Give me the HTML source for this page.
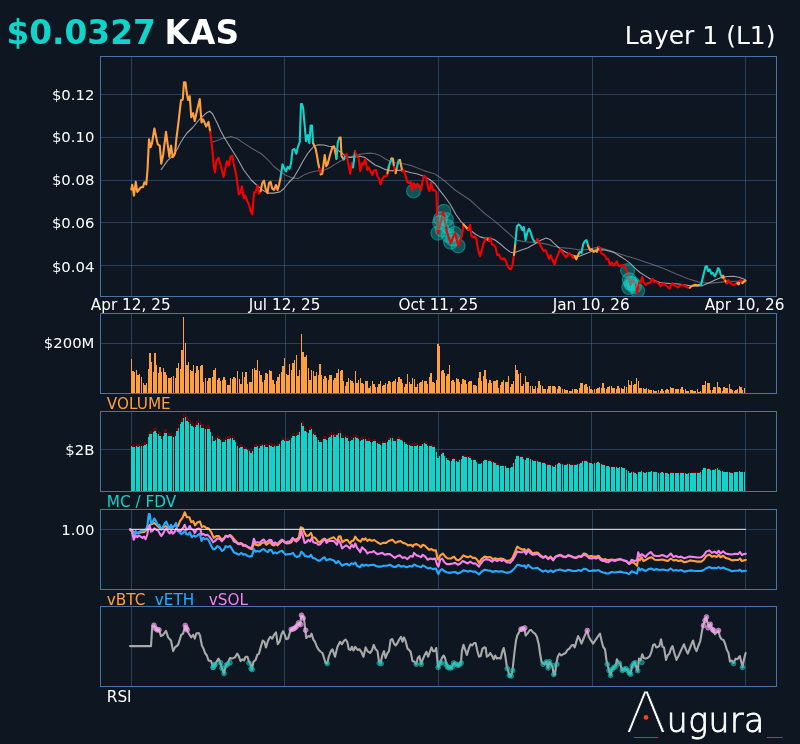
<!DOCTYPE html>
<html lang="en"><head><meta charset="utf-8"><title>KAS $0.0327 - Layer 1 (L1)</title>
<style>html,body{margin:0;padding:0;background:#0e1621}body{width:800px;height:744px;overflow:hidden}</style></head>
<body>
<svg width="800" height="744" viewBox="0 0 800 744" style="display:block;will-change:transform;font-family:'DejaVu Sans','Liberation Sans',sans-serif">
<rect width="800" height="744" fill="#0e1621"/>
<g stroke="#4a73a5" stroke-opacity="0.45" stroke-width="1" shape-rendering="crispEdges"><line x1="131.5" x2="131.5" y1="56.5" y2="296.5"/><line x1="284.5" x2="284.5" y1="56.5" y2="296.5"/><line x1="438.5" x2="438.5" y1="56.5" y2="296.5"/><line x1="592.5" x2="592.5" y1="56.5" y2="296.5"/><line x1="745.5" x2="745.5" y1="56.5" y2="296.5"/><line x1="100.5" x2="776.5" y1="94.5" y2="94.5"/><line x1="100.5" x2="776.5" y1="137.5" y2="137.5"/><line x1="100.5" x2="776.5" y1="180.5" y2="180.5"/><line x1="100.5" x2="776.5" y1="222.5" y2="222.5"/><line x1="100.5" x2="776.5" y1="265.5" y2="265.5"/></g>
<g fill="none" stroke-linejoin="round" stroke-linecap="butt">
<path d="M212.5 141.9 L215 141.25 L222.5 138.5 L231.25 136.5 L237.5 138.75 L243.75 143.1 L252.5 148.75 L261.25 153.75 L267.5 159.4 L273.75 166.25 L280 171.25 L285 175 L291.25 177.5 L297.5 178.5 L300 177.5 L305 174.4 L310 172.5 L315 171.25 L320 170.6 L325 169.75 L330 167.5 L335 164.4 L340 161.25 L345 158.75 L350 156.9 L355 155.6 L360 154.4 L365 153.5 L370 153.1 L375 153.75 L380 155.6 L385 158.75 L390 161.25 L395 162.75 L400 163.5 L405 164 L411.25 165.6 L417.5 168.1 L423.75 170.6 L430 172.5 L435 174 L440 177.5 L445 181.25 L450 185.6 L455 190 L462.5 195 L470 200 L477.5 206.9 L485 213.75 L492.5 219.4 L500 225.6 L506.25 231.25 L510 234.4 L513.75 238.1 L517.5 240.4 L522.5 241.4 L528.75 242 L535 242.5 L541.25 243.1 L547.5 244.4 L553.75 246.25 L560 247.5 L566.25 248.1 L572.5 248.75 L578.75 249.75 L585 249.75 L590 249 L596.25 247.6 L601.25 248.1 L607.5 250 L613.75 251.9 L620 254 L626.25 256 L632.5 257.75 L638.75 259.75 L645 261.9 L651.25 264 L657.5 266.25 L663.75 268.5 L670 271.25 L676.25 274 L682.5 276.5 L688.75 279 L695 280.9 L700 282.5 L711.25 283.1 L723.75 281.9 L736.25 281.25 L745.6 280.6" stroke="#9a9da3" stroke-width="1.1" stroke-opacity="0.55"/>
<path d="M160.9 170 L167.5 160.6 L173.1 155.6 L177.5 148.75 L180 143.5 L183.75 137.5 L187 133 L192.5 127.75 L200 118.75 L206.25 113.1 L209.75 111.25 L212.5 113.75 L217.5 123.75 L220.5 130.5 L224.4 137.8 L231.25 148.75 L237.5 158.75 L243.75 170 L251.25 180 L256.25 184.75 L262.5 190 L267.5 193.1 L273.75 193.1 L280 191.9 L283.75 188.75 L288.75 182.5 L293.75 177.5 L298.75 169 L302.5 162 L307.5 153.75 L310 150.6 L313.75 146.25 L318.1 144.75 L323.75 145 L328.75 146.25 L333.75 146.9 L337.5 150 L341.25 152.5 L345 155.6 L350 157.5 L355 156.9 L360 156.25 L365 157.5 L370 161.25 L375 165 L380 167 L385 169.4 L390 170.6 L395 170.6 L400 170.25 L405 171 L411.25 172.75 L417.5 174 L423.75 176.25 L430 179.75 L435 183.75 L440 190.6 L445 197 L450 204 L456.25 215 L461.25 221.9 L465 225.6 L470 230 L475 233.75 L480 236.9 L485 238.1 L490 238.1 L495 240 L500 243.75 L505 248.1 L510 251.9 L513.75 253.1 L520 250.6 L527.5 248.1 L535 243.75 L541.25 240 L546.25 238.1 L550 239.4 L553.75 243.1 L560 248.75 L566.25 252.5 L572.5 255 L578.75 256.5 L585 254 L590 251.9 L595 250 L600 249.6 L605 250 L610 251.25 L615 253.1 L620 256.25 L625 259.4 L630 263.1 L635 268.1 L640 272.5 L645 275.6 L650 278.75 L655 280.6 L660 282.5 L665 283.1 L670 283.5 L676.25 283.75 L682.5 284.6 L688.75 285.5 L692.5 286.25 L697 286.2 L702.5 285.6 L708.75 283.1 L715 280 L721.25 277.5 L727.5 276.5 L733.75 276.25 L738.75 277.25 L742.5 278.5 L745.6 279.75" stroke="#c4c6ca" stroke-width="1.1" stroke-opacity="0.8"/>
<clipPath id="cp0"><rect x="100.5" y="56.5" width="676" height="240"/></clipPath>
<g fill="#12d3c9" fill-opacity="0.33" stroke="#12d3c9" stroke-opacity="0.42" stroke-width="1.2" clip-path="url(#cp0)"><circle cx="413.5" cy="191" r="7"/><circle cx="443.8" cy="211.3" r="7"/><circle cx="440.6" cy="218.8" r="7"/><circle cx="446.4" cy="219.5" r="7"/><circle cx="437.8" cy="233.1" r="7"/><circle cx="447.2" cy="226.3" r="7"/><circle cx="442.3" cy="230" r="7"/><circle cx="448.3" cy="235.3" r="7"/><circle cx="450.6" cy="242.1" r="7"/><circle cx="452.8" cy="239" r="7"/><circle cx="458.1" cy="245.9" r="7"/><circle cx="454.7" cy="233.5" r="7"/><circle cx="627.6" cy="270.6" r="7"/><circle cx="633" cy="283.5" r="7"/><circle cx="634.5" cy="286.5" r="7"/><circle cx="628.8" cy="287.5" r="7"/><circle cx="637.6" cy="290.8" r="7"/><circle cx="631.5" cy="284.5" r="7"/></g>
<path d="M131.3 189.4 L132.25 184.75 L134 195.62 L135.75 181.88 L137.25 191.88 L138.75 190 L140.62 187.5 L143.12 186.88 L144.38 182.25 L146.25 184.38 L147.5 170 L149 139.38 L150.62 147.25 L151.88 143.75 L154.38 128.5 L156.25 137.5 L157.75 144.38 L159.75 145.62 L161.25 163.75 L163.12 155 L166 131.88 L169.38 156.88 L171 145.62 L172.75 157.25 L175 153.75 L176.25 140 L178.75 120 L181 100.25 L182.75 99.75 L184 82.25 L185.5 82.25 L186.5 91.25 L188.12 100 L189.75 96.25 L191.25 117.25 L193.12 113.12 L194.75 121 L196.88 111.25 L199.75 99 L201.5 122.5 L203.12 119.38 L206.25 126.5 L208.5 121.88 L210.25 131.88" stroke="#ffa03c" stroke-width="2.1" stroke-linecap="round"/>
<path d="M210.25 131.88 L212.5 151.25 L213.75 166.25 L215 172.5 L216.25 161.25 L218.5 157.75 L220.62 165 L223.5 176.88 L226.88 161.25 L228.75 165.62 L230.25 157.25 L232.25 155.62 L233.75 163.75 L236.25 175 L238.75 194.38 L240.62 192.5 L241.88 186.25 L243.75 198.12 L245.25 195.62 L247.25 201.25 L249 204.38 L250.62 211.25 L252.25 214.38 L254 192.5 L255.62 191.88 L257.5 185.62 L259 193.75 L260.62 191.25" stroke="#f40000" stroke-width="2.1" stroke-linecap="round"/>
<path d="M260.62 191.25 L262.25 183.12 L264 180.62 L265.62 188.75 L267.5 193.12 L269 183.12 L270.62 181.88 L272.25 188.75 L274 190 L276 185 L277.5 190 L279 185 L280.62 177.5" stroke="#ffa03c" stroke-width="2.1" stroke-linecap="round"/>
<path d="M280.62 176.88 L282.5 164.38 L284 168.12 L286 171.25 L287.75 166.88 L289.38 168.75 L291 163.75 L292.5 150 L294.38 148.75 L296.25 153.75 L297.75 147.5 L300 141.25 L299.75 141.25 L301 104 L302 104 L303.12 108.12 L304.75 126.25 L306 141.25 L307.75 135 L309.38 143.12 L310.62 125.62 L312 125.62 L313.12 143.12" stroke="#12d3c9" stroke-width="2.1" stroke-linecap="round"/>
<path d="M313.12 143.12 L315.62 148.75 L316.88 155 L318.12 162.5 L319.38 168.75" stroke="#ffa03c" stroke-width="2.1" stroke-linecap="round"/>
<path d="M319.38 168.75 L320.25 171.88 L320.62 174.38" stroke="#f40000" stroke-width="2.1" stroke-linecap="round"/>
<path d="M320.62 174.38 L322.25 173.75 L324.75 155 L326.25 166.25 L327.5 164.38 L330 155 L332.5 146.88 L334 146.25 L335.62 153.75 L336.5 158.75" stroke="#ffa03c" stroke-width="2.1" stroke-linecap="round"/>
<path d="M336.5 158.75 L337.75 142.5 L339.38 137.75" stroke="#12d3c9" stroke-width="2.1" stroke-linecap="round"/>
<path d="M339.38 137.75 L340.62 137.5 L341.5 156.25 L343.75 159.38" stroke="#ffa03c" stroke-width="2.1" stroke-linecap="round"/>
<path d="M343.75 159.38 L345.25 155" stroke="#12d3c9" stroke-width="2.1" stroke-linecap="round"/>
<path d="M345.25 155 L346.5 153.75 L348.12 163.12 L350.25 173.75 L351.88 162.5 L353.12 167.5" stroke="#f40000" stroke-width="2.1" stroke-linecap="round"/>
<path d="M353.12 167.5 L355 151.25" stroke="#12d3c9" stroke-width="2.1" stroke-linecap="round"/>
<path d="M355 151.25 L356.88 156.88 L358.5 157.5 L360.25 171.25 L361.88 163.12 L363.5 164.38 L365.25 158.75 L367.25 170 L368.75 167.5 L372.25 175 L374 170.62 L376 170 L377.5 176.25 L379 178.75 L380.62 184.38 L382.25 178.75 L384.38 176.25 L386.25 176.25 L387.5 173.12" stroke="#f40000" stroke-width="2.1" stroke-linecap="round"/>
<path d="M387.5 173.12 L388.75 167.5" stroke="#ffa03c" stroke-width="2.1" stroke-linecap="round"/>
<path d="M388.75 167.5 L388.5 167.25 L391.5 158.5" stroke="#12d3c9" stroke-width="2.1" stroke-linecap="round"/>
<path d="M391.5 158.5 L392.88 158.5 L394 166.88" stroke="#ffa03c" stroke-width="2.1" stroke-linecap="round"/>
<path d="M394 166.88 L395.62 173.12" stroke="#f40000" stroke-width="2.1" stroke-linecap="round"/>
<path d="M395.62 173.12 L396.88 167.5" stroke="#ffa03c" stroke-width="2.1" stroke-linecap="round"/>
<path d="M396.88 167.5 L398.75 160 L400 160" stroke="#12d3c9" stroke-width="2.1" stroke-linecap="round"/>
<path d="M400 160 L402.25 171.25" stroke="#ffa03c" stroke-width="2.1" stroke-linecap="round"/>
<path d="M402.25 171.25 L403.75 170 L405.62 176.25 L407.25 181.88 L409 183.12 L410.62 181.88 L412.25 190.62 L413.75 183.12 L415.62 188.12 L417.5 183.75 L419.38 185.62 L421 190.62 L422.75 180 L424.38 175.62 L426.25 178.12 L428.12 187.5 L429.38 191.25 L431 182.5 L432.75 190 L434.75 190 L436.5 192.5 L436.88 210 L438.12 233.75 L439.75 226.25 L441.25 220 L443.12 211.25 L445 221.25 L446.88 231.25 L448.75 237.5 L451 243.12 L452.75 238.12 L455 233.12 L456.5 238.75 L458.12 245.62 L460 240.62 L461.88 236.25 L463.5 224.38" stroke="#f40000" stroke-width="2.1" stroke-linecap="round"/>
<path d="M463.5 224.38 L468.12 229.75" stroke="#ffa03c" stroke-width="2.1" stroke-linecap="round"/>
<path d="M468.12 229.75 L468.5 228.75 L470 225 L471.5 236.25 L473.12 237.5 L474.75 236.25 L476.5 239.38 L478.12 250 L480 256.25 L481.88 250 L483.75 242.5 L485.62 238.75 L487.5 239.38" stroke="#f40000" stroke-width="2.1" stroke-linecap="round"/>
<path d="M487.5 239.38 L489 240.62" stroke="#ffa03c" stroke-width="2.1" stroke-linecap="round"/>
<path d="M489 240.62 L490.25 237.5 L491.88 244.38 L493.75 245 L495.62 247.5 L497.25 255 L499 254.38 L500.62 258.12 L502.25 259.38 L504 258.12 L505.62 260.62 L507.25 265 L509 268.5 L511 269.38 L512.5 265 L514 255" stroke="#f40000" stroke-width="2.1" stroke-linecap="round"/>
<path d="M514 255 L515.25 243.75" stroke="#ffa03c" stroke-width="2.1" stroke-linecap="round"/>
<path d="M515.25 243.75 L516.88 226.25 L518.75 224.38 L520.62 226.25 L522.25 230 L523.75 226.88 L525.62 240 L527.5 231.88 L529 228.75 L530.62 232.5 L532.5 238.12 L534.38 241.88 L536.25 241.25" stroke="#12d3c9" stroke-width="2.1" stroke-linecap="round"/>
<path d="M536.25 241.25 L537.5 238.75 L539.38 243.75 L541.25 246.88 L543.75 251.25 L545.62 250 L547.25 254.38 L549 258.75 L550.62 255 L552.5 260 L554.38 264.38 L556.25 258.75 L558.12 254.38 L560 249.38 L561.88 251.25 L563.75 254.38 L566 257.5 L567.75 255 L569.38 253.12 L571.25 255.62 L573.12 258.12 L574.75 256.25" stroke="#f40000" stroke-width="2.1" stroke-linecap="round"/>
<path d="M574.75 256.25 L576.25 259.38 L578.12 255 L579.75 251.88" stroke="#ffa03c" stroke-width="2.1" stroke-linecap="round"/>
<path d="M579.75 251.88 L581.5 253.12 L583.12 244.38 L584.75 241.25 L586.5 240 L588.12 245.62" stroke="#12d3c9" stroke-width="2.1" stroke-linecap="round"/>
<path d="M588.12 245.62 L590 250 L591.88 249.38 L593.75 251.88 L595.62 250.62 L596.88 251.88 L598.5 246.88" stroke="#ffa03c" stroke-width="2.1" stroke-linecap="round"/>
<path d="M598.5 246.88 L599.75 247.5 L601.25 253.12 L603.12 254.38 L605 255.62 L606.5 259.38 L608.12 258.75 L610 265 L611.88 262.5 L613.75 265.62 L615.25 263.75 L616.88 261.25 L618.75 266.25 L620.62 265.62 L623.75 265 L625.62 268.12 L627.25 271.88 L628.12 276.25 L630.62 285 L632.25 279.75 L634.38 282.5 L636 285 L637.25 293.12 L638.75 282.5 L640.25 283.12 L642.25 276.88 L643.75 282.5 L645.62 285 L647.5 283.12 L649.38 283.12 L651 281.25 L652.5 278.75 L654 281.88 L656.25 281.25 L658.75 283.75 L660.62 286.25 L663.12 283.12 L665 284.38 L667.5 286.88 L669.38 288.75 L671 285 L672.5 283.12 L674.38 285.62 L676.25 286.25 L677.75 287.5 L680 285.62 L682.5 285 L683.12 285 L685.62 286.25 L687.75 287.5 L689.75 287.75" stroke="#f40000" stroke-width="2.1" stroke-linecap="round"/>
<path d="M689.75 287.75 L690.62 286.88 L692.5 285.62 L695 284.75 L697.5 285.25 L700 284.75" stroke="#ffa03c" stroke-width="2.1" stroke-linecap="round"/>
<path d="M700 284.75 L701 285 L703.12 276.25 L705.62 266.25 L706.88 266.25 L708.12 271.25 L709.75 269.38 L711.25 273.75 L712.75 272.75 L714.75 276.25 L716.5 273.12 L718.12 268.12 L719.38 269.38 L720.62 274.38 L722.25 277.5" stroke="#12d3c9" stroke-width="2.1" stroke-linecap="round"/>
<path d="M722.25 277.5 L723.12 275.62 L724.38 279.38" stroke="#ffa03c" stroke-width="2.1" stroke-linecap="round"/>
<path d="M724.38 279.38 L725.25 280.62" stroke="#f40000" stroke-width="2.1" stroke-linecap="round"/>
<path d="M725.25 280.62 L726.88 283.12" stroke="#ffa03c" stroke-width="2.1" stroke-linecap="round"/>
<path d="M726.88 283.12 L728.12 280.25 L730 282.25 L731.88 284.38 L733.75 285 L735.62 283.75 L737.25 283.12" stroke="#f40000" stroke-width="2.1" stroke-linecap="round"/>
<path d="M737.25 283.12 L738.75 284.38 L739.75 281.25" stroke="#ffa03c" stroke-width="2.1" stroke-linecap="round"/>
<path d="M739.75 281.25 L740.62 280 L742.25 283.12" stroke="#f40000" stroke-width="2.1" stroke-linecap="round"/>
<path d="M742.25 283.12 L743.75 281.88 L745.62 280.62" stroke="#ffa03c" stroke-width="2.1" stroke-linecap="round"/>
<g fill="#12d3c9" fill-opacity="0.33" stroke="#12d3c9" stroke-opacity="0.42" stroke-width="1.2" clip-path="url(#cp0)"><circle cx="439.6" cy="222.5" r="7"/><circle cx="629.3" cy="279.8" r="7"/><circle cx="630.6" cy="283" r="7"/></g>
</g>
<rect x="100.5" y="56.5" width="676.0" height="240.0" fill="none" stroke="#4a73a5" stroke-width="1" shape-rendering="crispEdges"/>
<g stroke="#4a73a5" stroke-opacity="0.45" stroke-width="1" shape-rendering="crispEdges"><line x1="131.5" x2="131.5" y1="313.5" y2="393.5"/><line x1="285.5" x2="285.5" y1="313.5" y2="393.5"/><line x1="438.5" x2="438.5" y1="313.5" y2="393.5"/><line x1="591.5" x2="591.5" y1="313.5" y2="393.5"/><line x1="745.5" x2="745.5" y1="313.5" y2="393.5"/><line x1="100.5" x2="776.5" y1="343.5" y2="343.5"/></g>
<g fill="#ffa03c" shape-rendering="crispEdges"><rect x="131" y="359" width="1" height="34"/><rect x="132" y="371" width="2" height="22"/><rect x="134" y="372" width="1" height="21"/><rect x="136" y="370" width="1" height="23"/><rect x="137" y="375" width="2" height="18"/><rect x="139" y="374" width="1" height="19"/><rect x="141" y="377" width="1" height="16"/><rect x="143" y="383" width="1" height="10"/><rect x="144" y="385" width="2" height="8"/><rect x="146" y="383" width="1" height="10"/><rect x="148" y="369" width="1" height="24"/><rect x="149" y="353" width="2" height="40"/><rect x="151" y="362" width="1" height="31"/><rect x="153" y="372" width="1" height="21"/><rect x="154" y="353" width="2" height="40"/><rect x="156" y="365" width="1" height="28"/><rect x="158" y="373" width="1" height="20"/><rect x="159" y="367" width="2" height="26"/><rect x="161" y="372" width="1" height="21"/><rect x="163" y="368" width="1" height="25"/><rect x="164" y="372" width="2" height="21"/><rect x="166" y="375" width="1" height="18"/><rect x="168" y="378" width="1" height="15"/><rect x="169" y="378" width="2" height="15"/><rect x="171" y="377" width="1" height="16"/><rect x="173" y="376" width="1" height="17"/><rect x="175" y="378" width="1" height="15"/><rect x="176" y="368" width="2" height="25"/><rect x="178" y="363" width="1" height="30"/><rect x="180" y="369" width="1" height="24"/><rect x="181" y="350" width="2" height="43"/><rect x="183" y="317" width="1" height="76"/><rect x="185" y="343" width="1" height="50"/><rect x="186" y="365" width="2" height="28"/><rect x="188" y="362" width="1" height="31"/><rect x="190" y="370" width="1" height="23"/><rect x="191" y="371" width="2" height="22"/><rect x="193" y="365" width="1" height="28"/><rect x="195" y="373" width="1" height="20"/><rect x="196" y="366" width="2" height="27"/><rect x="198" y="370" width="1" height="23"/><rect x="200" y="366" width="1" height="27"/><rect x="201" y="365" width="2" height="28"/><rect x="203" y="382" width="1" height="11"/><rect x="205" y="378" width="1" height="15"/><rect x="207" y="381" width="1" height="12"/><rect x="208" y="378" width="2" height="15"/><rect x="210" y="378" width="1" height="15"/><rect x="212" y="377" width="1" height="16"/><rect x="213" y="370" width="2" height="23"/><rect x="215" y="368" width="1" height="25"/><rect x="217" y="380" width="1" height="13"/><rect x="218" y="378" width="2" height="15"/><rect x="220" y="381" width="1" height="12"/><rect x="222" y="380" width="1" height="13"/><rect x="223" y="377" width="2" height="16"/><rect x="225" y="380" width="1" height="13"/><rect x="227" y="385" width="1" height="8"/><rect x="228" y="385" width="2" height="8"/><rect x="230" y="378" width="1" height="15"/><rect x="232" y="379" width="1" height="14"/><rect x="233" y="377" width="2" height="16"/><rect x="235" y="378" width="1" height="15"/><rect x="237" y="371" width="1" height="22"/><rect x="239" y="379" width="1" height="14"/><rect x="240" y="384" width="2" height="9"/><rect x="242" y="372" width="1" height="21"/><rect x="244" y="377" width="1" height="16"/><rect x="245" y="372" width="2" height="21"/><rect x="247" y="384" width="1" height="9"/><rect x="249" y="382" width="1" height="11"/><rect x="250" y="382" width="2" height="11"/><rect x="252" y="369" width="1" height="24"/><rect x="254" y="368" width="1" height="25"/><rect x="255" y="370" width="2" height="23"/><rect x="257" y="360" width="1" height="33"/><rect x="259" y="371" width="1" height="22"/><rect x="260" y="375" width="2" height="18"/><rect x="262" y="382" width="1" height="11"/><rect x="264" y="380" width="1" height="13"/><rect x="265" y="373" width="2" height="20"/><rect x="267" y="374" width="1" height="19"/><rect x="269" y="370" width="1" height="23"/><rect x="270" y="371" width="2" height="22"/><rect x="272" y="380" width="2" height="13"/><rect x="274" y="384" width="1" height="9"/><rect x="276" y="381" width="1" height="12"/><rect x="277" y="377" width="2" height="16"/><rect x="279" y="374" width="1" height="19"/><rect x="281" y="372" width="1" height="21"/><rect x="282" y="366" width="2" height="27"/><rect x="284" y="358" width="1" height="35"/><rect x="286" y="374" width="1" height="19"/><rect x="287" y="375" width="2" height="18"/><rect x="289" y="364" width="1" height="29"/><rect x="291" y="370" width="1" height="23"/><rect x="292" y="363" width="2" height="30"/><rect x="294" y="360" width="1" height="33"/><rect x="296" y="355" width="1" height="38"/><rect x="297" y="376" width="2" height="17"/><rect x="299" y="370" width="1" height="23"/><rect x="301" y="334" width="1" height="59"/><rect x="302" y="352" width="2" height="41"/><rect x="304" y="357" width="2" height="36"/><rect x="306" y="355" width="1" height="38"/><rect x="308" y="368" width="1" height="25"/><rect x="309" y="380" width="2" height="13"/><rect x="311" y="370" width="1" height="23"/><rect x="313" y="371" width="1" height="22"/><rect x="314" y="376" width="2" height="17"/><rect x="316" y="372" width="1" height="21"/><rect x="318" y="375" width="1" height="18"/><rect x="319" y="364" width="2" height="29"/><rect x="321" y="375" width="1" height="18"/><rect x="323" y="379" width="1" height="14"/><rect x="324" y="376" width="2" height="17"/><rect x="326" y="378" width="1" height="15"/><rect x="328" y="380" width="1" height="13"/><rect x="329" y="375" width="2" height="18"/><rect x="331" y="375" width="1" height="18"/><rect x="333" y="380" width="1" height="13"/><rect x="334" y="378" width="2" height="15"/><rect x="336" y="373" width="2" height="20"/><rect x="338" y="369" width="1" height="24"/><rect x="340" y="371" width="1" height="22"/><rect x="341" y="370" width="2" height="23"/><rect x="343" y="381" width="1" height="12"/><rect x="345" y="386" width="1" height="7"/><rect x="346" y="382" width="2" height="11"/><rect x="348" y="378" width="1" height="15"/><rect x="350" y="380" width="1" height="13"/><rect x="351" y="381" width="2" height="12"/><rect x="353" y="383" width="1" height="10"/><rect x="355" y="371" width="1" height="22"/><rect x="356" y="383" width="2" height="10"/><rect x="358" y="380" width="1" height="13"/><rect x="360" y="378" width="1" height="15"/><rect x="361" y="383" width="2" height="10"/><rect x="363" y="384" width="1" height="9"/><rect x="365" y="381" width="1" height="12"/><rect x="366" y="381" width="2" height="12"/><rect x="368" y="388" width="2" height="5"/><rect x="370" y="386" width="1" height="7"/><rect x="372" y="381" width="1" height="12"/><rect x="373" y="384" width="2" height="9"/><rect x="375" y="387" width="1" height="6"/><rect x="377" y="387" width="1" height="6"/><rect x="378" y="384" width="2" height="9"/><rect x="380" y="381" width="1" height="12"/><rect x="382" y="386" width="1" height="7"/><rect x="383" y="385" width="2" height="8"/><rect x="385" y="383" width="1" height="10"/><rect x="387" y="384" width="1" height="9"/><rect x="388" y="381" width="2" height="12"/><rect x="390" y="382" width="1" height="11"/><rect x="392" y="382" width="1" height="11"/><rect x="393" y="381" width="2" height="12"/><rect x="395" y="379" width="1" height="14"/><rect x="397" y="382" width="1" height="11"/><rect x="398" y="377" width="2" height="16"/><rect x="400" y="379" width="2" height="14"/><rect x="402" y="383" width="1" height="10"/><rect x="404" y="387" width="1" height="6"/><rect x="405" y="384" width="2" height="9"/><rect x="407" y="374" width="1" height="19"/><rect x="409" y="382" width="1" height="11"/><rect x="410" y="384" width="2" height="9"/><rect x="412" y="378" width="1" height="15"/><rect x="414" y="379" width="1" height="14"/><rect x="415" y="387" width="2" height="6"/><rect x="417" y="384" width="1" height="9"/><rect x="419" y="383" width="1" height="10"/><rect x="420" y="382" width="2" height="11"/><rect x="422" y="380" width="1" height="13"/><rect x="424" y="381" width="1" height="12"/><rect x="425" y="381" width="2" height="12"/><rect x="427" y="384" width="1" height="9"/><rect x="429" y="377" width="1" height="16"/><rect x="430" y="373" width="2" height="20"/><rect x="432" y="382" width="2" height="11"/><rect x="434" y="383" width="1" height="10"/><rect x="436" y="380" width="1" height="13"/><rect x="437" y="344" width="2" height="49"/><rect x="439" y="346" width="1" height="47"/><rect x="441" y="371" width="1" height="22"/><rect x="442" y="370" width="2" height="23"/><rect x="444" y="373" width="1" height="20"/><rect x="446" y="376" width="1" height="17"/><rect x="447" y="374" width="2" height="19"/><rect x="449" y="365" width="1" height="28"/><rect x="451" y="381" width="1" height="12"/><rect x="452" y="380" width="2" height="13"/><rect x="454" y="382" width="1" height="11"/><rect x="456" y="378" width="1" height="15"/><rect x="457" y="379" width="2" height="14"/><rect x="459" y="382" width="1" height="11"/><rect x="461" y="384" width="1" height="9"/><rect x="462" y="379" width="2" height="14"/><rect x="464" y="380" width="2" height="13"/><rect x="466" y="384" width="1" height="9"/><rect x="468" y="382" width="1" height="11"/><rect x="469" y="381" width="2" height="12"/><rect x="471" y="381" width="1" height="12"/><rect x="473" y="385" width="1" height="8"/><rect x="474" y="385" width="2" height="8"/><rect x="476" y="386" width="1" height="7"/><rect x="478" y="378" width="1" height="15"/><rect x="479" y="372" width="2" height="21"/><rect x="481" y="381" width="1" height="12"/><rect x="483" y="376" width="1" height="17"/><rect x="484" y="370" width="2" height="23"/><rect x="486" y="379" width="1" height="14"/><rect x="488" y="383" width="1" height="10"/><rect x="489" y="380" width="2" height="13"/><rect x="491" y="383" width="1" height="10"/><rect x="493" y="381" width="1" height="12"/><rect x="494" y="381" width="2" height="12"/><rect x="496" y="380" width="2" height="13"/><rect x="498" y="388" width="1" height="5"/><rect x="500" y="385" width="1" height="8"/><rect x="501" y="382" width="2" height="11"/><rect x="503" y="380" width="1" height="13"/><rect x="505" y="382" width="1" height="11"/><rect x="506" y="382" width="2" height="11"/><rect x="508" y="376" width="1" height="17"/><rect x="510" y="387" width="1" height="6"/><rect x="511" y="384" width="2" height="9"/><rect x="513" y="381" width="1" height="12"/><rect x="515" y="365" width="1" height="28"/><rect x="516" y="370" width="2" height="23"/><rect x="518" y="374" width="1" height="19"/><rect x="520" y="373" width="1" height="20"/><rect x="521" y="386" width="2" height="7"/><rect x="523" y="384" width="1" height="9"/><rect x="525" y="376" width="1" height="17"/><rect x="526" y="382" width="2" height="11"/><rect x="528" y="382" width="1" height="11"/><rect x="530" y="386" width="1" height="7"/><rect x="532" y="386" width="1" height="7"/><rect x="533" y="389" width="2" height="4"/><rect x="535" y="386" width="1" height="7"/><rect x="537" y="388" width="1" height="5"/><rect x="538" y="381" width="2" height="12"/><rect x="540" y="385" width="1" height="8"/><rect x="542" y="386" width="1" height="7"/><rect x="543" y="389" width="2" height="4"/><rect x="545" y="389" width="1" height="4"/><rect x="547" y="389" width="1" height="4"/><rect x="548" y="386" width="2" height="7"/><rect x="550" y="386" width="1" height="7"/><rect x="552" y="386" width="1" height="7"/><rect x="553" y="386" width="2" height="7"/><rect x="555" y="387" width="1" height="6"/><rect x="557" y="389" width="1" height="4"/><rect x="558" y="386" width="2" height="7"/><rect x="560" y="387" width="1" height="6"/><rect x="562" y="389" width="1" height="4"/><rect x="564" y="389" width="1" height="4"/><rect x="565" y="390" width="2" height="3"/><rect x="567" y="390" width="1" height="3"/><rect x="569" y="391" width="1" height="2"/><rect x="570" y="391" width="2" height="2"/><rect x="572" y="389" width="1" height="4"/><rect x="574" y="389" width="1" height="4"/><rect x="575" y="389" width="2" height="4"/><rect x="577" y="390" width="1" height="3"/><rect x="579" y="388" width="1" height="5"/><rect x="580" y="383" width="2" height="10"/><rect x="582" y="383" width="1" height="10"/><rect x="584" y="385" width="1" height="8"/><rect x="585" y="384" width="2" height="9"/><rect x="587" y="387" width="1" height="6"/><rect x="589" y="386" width="1" height="7"/><rect x="590" y="389" width="2" height="4"/><rect x="592" y="390" width="1" height="3"/><rect x="594" y="389" width="1" height="4"/><rect x="596" y="389" width="1" height="4"/><rect x="597" y="388" width="2" height="5"/><rect x="599" y="387" width="1" height="6"/><rect x="601" y="388" width="1" height="5"/><rect x="602" y="383" width="2" height="10"/><rect x="604" y="388" width="1" height="5"/><rect x="606" y="389" width="1" height="4"/><rect x="607" y="387" width="2" height="6"/><rect x="609" y="386" width="1" height="7"/><rect x="611" y="386" width="1" height="7"/><rect x="612" y="388" width="2" height="5"/><rect x="614" y="388" width="1" height="5"/><rect x="616" y="389" width="1" height="4"/><rect x="617" y="386" width="2" height="7"/><rect x="619" y="388" width="1" height="5"/><rect x="621" y="388" width="1" height="5"/><rect x="622" y="389" width="2" height="4"/><rect x="624" y="386" width="1" height="7"/><rect x="626" y="387" width="1" height="6"/><rect x="628" y="380" width="1" height="13"/><rect x="629" y="385" width="2" height="8"/><rect x="631" y="381" width="1" height="12"/><rect x="633" y="385" width="1" height="8"/><rect x="634" y="384" width="2" height="9"/><rect x="636" y="378" width="1" height="15"/><rect x="638" y="381" width="1" height="12"/><rect x="639" y="388" width="2" height="5"/><rect x="641" y="388" width="1" height="5"/><rect x="643" y="388" width="1" height="5"/><rect x="644" y="389" width="2" height="4"/><rect x="646" y="388" width="1" height="5"/><rect x="648" y="389" width="1" height="4"/><rect x="649" y="390" width="2" height="3"/><rect x="651" y="390" width="1" height="3"/><rect x="653" y="390" width="1" height="3"/><rect x="654" y="391" width="2" height="2"/><rect x="656" y="391" width="1" height="2"/><rect x="658" y="390" width="1" height="3"/><rect x="660" y="391" width="1" height="2"/><rect x="661" y="389" width="2" height="4"/><rect x="663" y="391" width="1" height="2"/><rect x="665" y="390" width="1" height="3"/><rect x="666" y="389" width="2" height="4"/><rect x="668" y="390" width="1" height="3"/><rect x="670" y="387" width="1" height="6"/><rect x="671" y="388" width="2" height="5"/><rect x="673" y="388" width="1" height="5"/><rect x="675" y="389" width="1" height="4"/><rect x="676" y="389" width="2" height="4"/><rect x="678" y="389" width="1" height="4"/><rect x="680" y="389" width="1" height="4"/><rect x="681" y="387" width="2" height="6"/><rect x="683" y="390" width="1" height="3"/><rect x="685" y="389" width="1" height="4"/><rect x="686" y="391" width="2" height="2"/><rect x="688" y="391" width="1" height="2"/><rect x="690" y="390" width="1" height="3"/><rect x="691" y="390" width="2" height="3"/><rect x="693" y="391" width="2" height="2"/><rect x="695" y="391" width="1" height="2"/><rect x="697" y="389" width="1" height="4"/><rect x="698" y="392" width="2" height="1"/><rect x="700" y="391" width="1" height="2"/><rect x="702" y="385" width="1" height="8"/><rect x="703" y="385" width="2" height="8"/><rect x="705" y="381" width="1" height="12"/><rect x="707" y="383" width="1" height="10"/><rect x="708" y="383" width="2" height="10"/><rect x="710" y="390" width="1" height="3"/><rect x="712" y="390" width="1" height="3"/><rect x="713" y="387" width="2" height="6"/><rect x="715" y="387" width="1" height="6"/><rect x="717" y="382" width="1" height="11"/><rect x="718" y="387" width="2" height="6"/><rect x="720" y="388" width="1" height="5"/><rect x="722" y="391" width="1" height="2"/><rect x="723" y="387" width="2" height="6"/><rect x="725" y="388" width="2" height="5"/><rect x="727" y="388" width="1" height="5"/><rect x="729" y="384" width="1" height="9"/><rect x="730" y="389" width="2" height="4"/><rect x="732" y="390" width="1" height="3"/><rect x="734" y="391" width="1" height="2"/><rect x="735" y="390" width="2" height="3"/><rect x="737" y="389" width="1" height="4"/><rect x="739" y="386" width="1" height="7"/><rect x="740" y="387" width="2" height="6"/><rect x="742" y="390" width="1" height="3"/><rect x="744" y="388" width="1" height="5"/></g>
<rect x="100.5" y="313.5" width="676.0" height="80.0" fill="none" stroke="#4a73a5" stroke-width="1" shape-rendering="crispEdges"/>
<g stroke="#4a73a5" stroke-opacity="0.45" stroke-width="1" shape-rendering="crispEdges"><line x1="131.5" x2="131.5" y1="411.5" y2="491.5"/><line x1="285.5" x2="285.5" y1="411.5" y2="491.5"/><line x1="438.5" x2="438.5" y1="411.5" y2="491.5"/><line x1="591.5" x2="591.5" y1="411.5" y2="491.5"/><line x1="745.5" x2="745.5" y1="411.5" y2="491.5"/><line x1="100.5" x2="776.5" y1="449.5" y2="449.5"/></g>
<g fill="#66070a" shape-rendering="crispEdges"><rect x="131" y="444" width="1" height="47"/><rect x="132" y="444" width="2" height="47"/><rect x="134" y="444" width="1" height="47"/><rect x="136" y="443" width="1" height="48"/><rect x="137" y="444" width="2" height="47"/><rect x="139" y="444" width="1" height="47"/><rect x="141" y="443" width="1" height="48"/><rect x="143" y="443" width="1" height="48"/><rect x="144" y="442" width="2" height="49"/><rect x="146" y="441" width="1" height="50"/><rect x="148" y="434" width="1" height="57"/><rect x="149" y="431" width="2" height="60"/><rect x="151" y="431" width="1" height="60"/><rect x="153" y="428" width="1" height="63"/><rect x="154" y="427" width="2" height="64"/><rect x="156" y="429" width="1" height="62"/><rect x="158" y="431" width="1" height="60"/><rect x="159" y="432" width="2" height="59"/><rect x="161" y="436" width="1" height="55"/><rect x="163" y="433" width="1" height="58"/><rect x="164" y="429" width="2" height="62"/><rect x="166" y="429" width="1" height="62"/><rect x="168" y="433" width="1" height="58"/><rect x="169" y="433" width="2" height="58"/><rect x="171" y="433" width="1" height="58"/><rect x="173" y="434" width="1" height="57"/><rect x="175" y="433" width="1" height="58"/><rect x="176" y="428" width="2" height="63"/><rect x="178" y="424" width="1" height="67"/><rect x="180" y="420" width="1" height="71"/><rect x="181" y="418" width="2" height="73"/><rect x="183" y="414" width="1" height="77"/><rect x="185" y="413" width="1" height="78"/><rect x="186" y="416" width="2" height="75"/><rect x="188" y="418" width="1" height="73"/><rect x="190" y="420" width="1" height="71"/><rect x="191" y="422" width="2" height="69"/><rect x="193" y="423" width="1" height="68"/><rect x="195" y="423" width="1" height="68"/><rect x="196" y="421" width="2" height="70"/><rect x="198" y="419" width="1" height="72"/><rect x="200" y="421" width="1" height="70"/><rect x="201" y="424" width="2" height="67"/><rect x="203" y="424" width="1" height="67"/><rect x="205" y="425" width="1" height="66"/><rect x="207" y="425" width="1" height="66"/><rect x="208" y="425" width="2" height="66"/><rect x="210" y="429" width="1" height="62"/><rect x="212" y="433" width="1" height="58"/><rect x="213" y="438" width="2" height="53"/><rect x="215" y="437" width="1" height="54"/><rect x="217" y="435" width="1" height="56"/><rect x="218" y="436" width="2" height="55"/><rect x="220" y="437" width="1" height="54"/><rect x="222" y="439" width="1" height="52"/><rect x="223" y="439" width="2" height="52"/><rect x="225" y="437" width="1" height="54"/><rect x="227" y="436" width="1" height="55"/><rect x="228" y="436" width="2" height="55"/><rect x="230" y="435" width="1" height="56"/><rect x="232" y="435" width="1" height="56"/><rect x="233" y="437" width="2" height="54"/><rect x="235" y="440" width="1" height="51"/><rect x="237" y="443" width="1" height="48"/><rect x="239" y="445" width="1" height="46"/><rect x="240" y="444" width="2" height="47"/><rect x="242" y="445" width="1" height="46"/><rect x="244" y="446" width="1" height="45"/><rect x="245" y="447" width="2" height="44"/><rect x="247" y="448" width="1" height="43"/><rect x="249" y="449" width="1" height="42"/><rect x="250" y="451" width="2" height="40"/><rect x="252" y="449" width="1" height="42"/><rect x="254" y="445" width="1" height="46"/><rect x="255" y="444" width="2" height="47"/><rect x="257" y="444" width="1" height="47"/><rect x="259" y="445" width="1" height="46"/><rect x="260" y="444" width="2" height="47"/><rect x="262" y="442" width="1" height="49"/><rect x="264" y="443" width="1" height="48"/><rect x="265" y="444" width="2" height="47"/><rect x="267" y="444" width="1" height="47"/><rect x="269" y="442" width="1" height="49"/><rect x="270" y="443" width="2" height="48"/><rect x="272" y="444" width="2" height="47"/><rect x="274" y="444" width="1" height="47"/><rect x="276" y="443" width="1" height="48"/><rect x="277" y="444" width="2" height="47"/><rect x="279" y="442" width="1" height="49"/><rect x="281" y="439" width="1" height="52"/><rect x="282" y="438" width="2" height="53"/><rect x="284" y="438" width="1" height="53"/><rect x="286" y="438" width="1" height="53"/><rect x="287" y="438" width="2" height="53"/><rect x="289" y="438" width="1" height="53"/><rect x="291" y="435" width="1" height="56"/><rect x="292" y="433" width="2" height="58"/><rect x="294" y="433" width="1" height="58"/><rect x="296" y="433" width="1" height="58"/><rect x="297" y="432" width="2" height="59"/><rect x="299" y="429" width="1" height="62"/><rect x="301" y="420" width="1" height="71"/><rect x="302" y="422" width="2" height="69"/><rect x="304" y="428" width="2" height="63"/><rect x="306" y="429" width="1" height="62"/><rect x="308" y="430" width="1" height="61"/><rect x="309" y="427" width="2" height="64"/><rect x="311" y="426" width="1" height="65"/><rect x="313" y="431" width="1" height="60"/><rect x="314" y="432" width="2" height="59"/><rect x="316" y="435" width="1" height="56"/><rect x="318" y="437" width="1" height="54"/><rect x="319" y="440" width="2" height="51"/><rect x="321" y="440" width="1" height="51"/><rect x="323" y="436" width="1" height="55"/><rect x="324" y="436" width="2" height="55"/><rect x="326" y="437" width="1" height="54"/><rect x="328" y="436" width="1" height="55"/><rect x="329" y="434" width="2" height="57"/><rect x="331" y="432" width="1" height="59"/><rect x="333" y="432" width="1" height="59"/><rect x="334" y="434" width="2" height="57"/><rect x="336" y="433" width="2" height="58"/><rect x="338" y="430" width="1" height="61"/><rect x="340" y="430" width="1" height="61"/><rect x="341" y="435" width="2" height="56"/><rect x="343" y="435" width="1" height="56"/><rect x="345" y="434" width="1" height="57"/><rect x="346" y="436" width="2" height="55"/><rect x="348" y="438" width="1" height="53"/><rect x="350" y="439" width="1" height="52"/><rect x="351" y="437" width="2" height="54"/><rect x="353" y="435" width="1" height="56"/><rect x="355" y="434" width="1" height="57"/><rect x="356" y="435" width="2" height="56"/><rect x="358" y="437" width="1" height="54"/><rect x="360" y="438" width="1" height="53"/><rect x="361" y="437" width="2" height="54"/><rect x="363" y="436" width="1" height="55"/><rect x="365" y="437" width="1" height="54"/><rect x="366" y="439" width="2" height="52"/><rect x="368" y="438" width="2" height="53"/><rect x="370" y="440" width="1" height="51"/><rect x="372" y="440" width="1" height="51"/><rect x="373" y="439" width="2" height="52"/><rect x="375" y="439" width="1" height="52"/><rect x="377" y="441" width="1" height="50"/><rect x="378" y="442" width="2" height="49"/><rect x="380" y="442" width="1" height="49"/><rect x="382" y="441" width="1" height="50"/><rect x="383" y="441" width="2" height="50"/><rect x="385" y="441" width="1" height="50"/><rect x="387" y="439" width="1" height="52"/><rect x="388" y="437" width="2" height="54"/><rect x="390" y="436" width="1" height="55"/><rect x="392" y="436" width="1" height="55"/><rect x="393" y="439" width="2" height="52"/><rect x="395" y="439" width="1" height="52"/><rect x="397" y="437" width="1" height="54"/><rect x="398" y="436" width="2" height="55"/><rect x="400" y="438" width="2" height="53"/><rect x="402" y="439" width="1" height="52"/><rect x="404" y="440" width="1" height="51"/><rect x="405" y="442" width="2" height="49"/><rect x="407" y="443" width="1" height="48"/><rect x="409" y="442" width="1" height="49"/><rect x="410" y="444" width="2" height="47"/><rect x="412" y="443" width="1" height="48"/><rect x="414" y="444" width="1" height="47"/><rect x="415" y="443" width="2" height="48"/><rect x="417" y="443" width="1" height="48"/><rect x="419" y="444" width="1" height="47"/><rect x="420" y="444" width="2" height="47"/><rect x="422" y="441" width="1" height="50"/><rect x="424" y="441" width="1" height="50"/><rect x="425" y="442" width="2" height="49"/><rect x="427" y="444" width="1" height="47"/><rect x="429" y="444" width="1" height="47"/><rect x="430" y="444" width="2" height="47"/><rect x="432" y="445" width="2" height="46"/><rect x="434" y="445" width="1" height="46"/><rect x="436" y="450" width="1" height="41"/><rect x="437" y="457" width="2" height="34"/><rect x="439" y="455" width="1" height="36"/><rect x="441" y="452" width="1" height="39"/><rect x="442" y="452" width="2" height="39"/><rect x="444" y="454" width="1" height="37"/><rect x="446" y="457" width="1" height="34"/><rect x="447" y="458" width="2" height="33"/><rect x="449" y="460" width="1" height="31"/><rect x="451" y="459" width="1" height="32"/><rect x="452" y="458" width="2" height="33"/><rect x="454" y="458" width="1" height="33"/><rect x="456" y="459" width="1" height="32"/><rect x="457" y="460" width="2" height="31"/><rect x="459" y="459" width="1" height="32"/><rect x="461" y="457" width="1" height="34"/><rect x="462" y="455" width="2" height="36"/><rect x="464" y="455" width="2" height="36"/><rect x="466" y="456" width="1" height="35"/><rect x="468" y="456" width="1" height="35"/><rect x="469" y="456" width="2" height="35"/><rect x="471" y="458" width="1" height="33"/><rect x="473" y="458" width="1" height="33"/><rect x="474" y="459" width="2" height="32"/><rect x="476" y="461" width="1" height="30"/><rect x="478" y="463" width="1" height="28"/><rect x="479" y="463" width="2" height="28"/><rect x="481" y="461" width="1" height="30"/><rect x="483" y="460" width="1" height="31"/><rect x="484" y="459" width="2" height="32"/><rect x="486" y="459" width="1" height="32"/><rect x="488" y="459" width="1" height="32"/><rect x="489" y="459" width="2" height="32"/><rect x="491" y="460" width="1" height="31"/><rect x="493" y="461" width="1" height="30"/><rect x="494" y="462" width="2" height="29"/><rect x="496" y="463" width="2" height="28"/><rect x="498" y="463" width="1" height="28"/><rect x="500" y="464" width="1" height="27"/><rect x="501" y="465" width="2" height="26"/><rect x="503" y="465" width="1" height="26"/><rect x="505" y="465" width="1" height="26"/><rect x="506" y="467" width="2" height="24"/><rect x="508" y="467" width="1" height="24"/><rect x="510" y="467" width="1" height="24"/><rect x="511" y="466" width="2" height="25"/><rect x="513" y="462" width="1" height="29"/><rect x="515" y="457" width="1" height="34"/><rect x="516" y="455" width="2" height="36"/><rect x="518" y="455" width="1" height="36"/><rect x="520" y="456" width="1" height="35"/><rect x="521" y="456" width="2" height="35"/><rect x="523" y="457" width="1" height="34"/><rect x="525" y="458" width="1" height="33"/><rect x="526" y="457" width="2" height="34"/><rect x="528" y="456" width="1" height="35"/><rect x="530" y="458" width="1" height="33"/><rect x="532" y="459" width="1" height="32"/><rect x="533" y="460" width="2" height="31"/><rect x="535" y="459" width="1" height="32"/><rect x="537" y="459" width="1" height="32"/><rect x="538" y="461" width="2" height="30"/><rect x="540" y="461" width="1" height="30"/><rect x="542" y="462" width="1" height="29"/><rect x="543" y="462" width="2" height="29"/><rect x="545" y="463" width="1" height="28"/><rect x="547" y="464" width="1" height="27"/><rect x="548" y="464" width="2" height="27"/><rect x="550" y="464" width="1" height="27"/><rect x="552" y="465" width="1" height="26"/><rect x="553" y="466" width="2" height="25"/><rect x="555" y="464" width="1" height="27"/><rect x="557" y="463" width="1" height="28"/><rect x="558" y="462" width="2" height="29"/><rect x="560" y="462" width="1" height="29"/><rect x="562" y="463" width="1" height="28"/><rect x="564" y="464" width="1" height="27"/><rect x="565" y="464" width="2" height="27"/><rect x="567" y="463" width="1" height="28"/><rect x="569" y="463" width="1" height="28"/><rect x="570" y="464" width="2" height="27"/><rect x="572" y="464" width="1" height="27"/><rect x="574" y="464" width="1" height="27"/><rect x="575" y="464" width="2" height="27"/><rect x="577" y="463" width="1" height="28"/><rect x="579" y="463" width="1" height="28"/><rect x="580" y="462" width="2" height="29"/><rect x="582" y="460" width="1" height="31"/><rect x="584" y="460" width="1" height="31"/><rect x="585" y="460" width="2" height="31"/><rect x="587" y="461" width="1" height="30"/><rect x="589" y="462" width="1" height="29"/><rect x="590" y="462" width="2" height="29"/><rect x="592" y="463" width="1" height="28"/><rect x="594" y="462" width="1" height="29"/><rect x="596" y="462" width="1" height="29"/><rect x="597" y="461" width="2" height="30"/><rect x="599" y="462" width="1" height="29"/><rect x="601" y="463" width="1" height="28"/><rect x="602" y="464" width="2" height="27"/><rect x="604" y="464" width="1" height="27"/><rect x="606" y="465" width="1" height="26"/><rect x="607" y="466" width="2" height="25"/><rect x="609" y="466" width="1" height="25"/><rect x="611" y="466" width="1" height="25"/><rect x="612" y="467" width="2" height="24"/><rect x="614" y="466" width="1" height="25"/><rect x="616" y="466" width="1" height="25"/><rect x="617" y="467" width="2" height="24"/><rect x="619" y="467" width="1" height="24"/><rect x="621" y="467" width="1" height="24"/><rect x="622" y="467" width="2" height="24"/><rect x="624" y="468" width="1" height="23"/><rect x="626" y="469" width="1" height="22"/><rect x="628" y="471" width="1" height="20"/><rect x="629" y="472" width="2" height="19"/><rect x="631" y="471" width="1" height="20"/><rect x="633" y="471" width="1" height="20"/><rect x="634" y="472" width="2" height="19"/><rect x="636" y="474" width="1" height="17"/><rect x="638" y="472" width="1" height="19"/><rect x="639" y="471" width="2" height="20"/><rect x="641" y="470" width="1" height="21"/><rect x="643" y="472" width="1" height="19"/><rect x="644" y="472" width="2" height="19"/><rect x="646" y="472" width="1" height="19"/><rect x="648" y="472" width="1" height="19"/><rect x="649" y="471" width="2" height="20"/><rect x="651" y="471" width="1" height="20"/><rect x="653" y="471" width="1" height="20"/><rect x="654" y="471" width="2" height="20"/><rect x="656" y="472" width="1" height="19"/><rect x="658" y="472" width="1" height="19"/><rect x="660" y="472" width="1" height="19"/><rect x="661" y="472" width="2" height="19"/><rect x="663" y="472" width="1" height="19"/><rect x="665" y="472" width="1" height="19"/><rect x="666" y="473" width="2" height="18"/><rect x="668" y="473" width="1" height="18"/><rect x="670" y="472" width="1" height="19"/><rect x="671" y="472" width="2" height="19"/><rect x="673" y="472" width="1" height="19"/><rect x="675" y="473" width="1" height="18"/><rect x="676" y="473" width="2" height="18"/><rect x="678" y="472" width="1" height="19"/><rect x="680" y="472" width="1" height="19"/><rect x="681" y="472" width="2" height="19"/><rect x="683" y="472" width="1" height="19"/><rect x="685" y="473" width="1" height="18"/><rect x="686" y="473" width="2" height="18"/><rect x="688" y="473" width="1" height="18"/><rect x="690" y="473" width="1" height="18"/><rect x="691" y="472" width="2" height="19"/><rect x="693" y="472" width="2" height="19"/><rect x="695" y="472" width="1" height="19"/><rect x="697" y="472" width="1" height="19"/><rect x="698" y="472" width="2" height="19"/><rect x="700" y="471" width="1" height="20"/><rect x="702" y="469" width="1" height="22"/><rect x="703" y="467" width="2" height="24"/><rect x="705" y="467" width="1" height="24"/><rect x="707" y="468" width="1" height="23"/><rect x="708" y="468" width="2" height="23"/><rect x="710" y="469" width="1" height="22"/><rect x="712" y="469" width="1" height="22"/><rect x="713" y="469" width="2" height="22"/><rect x="715" y="468" width="1" height="23"/><rect x="717" y="468" width="1" height="23"/><rect x="718" y="469" width="2" height="22"/><rect x="720" y="470" width="1" height="21"/><rect x="722" y="470" width="1" height="21"/><rect x="723" y="471" width="2" height="20"/><rect x="725" y="472" width="2" height="19"/><rect x="727" y="471" width="1" height="20"/><rect x="729" y="472" width="1" height="19"/><rect x="730" y="472" width="2" height="19"/><rect x="732" y="472" width="1" height="19"/><rect x="734" y="472" width="1" height="19"/><rect x="735" y="472" width="2" height="19"/><rect x="737" y="472" width="1" height="19"/><rect x="739" y="471" width="1" height="20"/><rect x="740" y="472" width="2" height="19"/><rect x="742" y="471" width="1" height="20"/><rect x="744" y="471" width="1" height="20"/></g>
<g fill="#12d3c9" shape-rendering="crispEdges"><rect x="131" y="446" width="1" height="45"/><rect x="132" y="447" width="2" height="44"/><rect x="134" y="447" width="1" height="44"/><rect x="136" y="446" width="1" height="45"/><rect x="137" y="447" width="2" height="44"/><rect x="139" y="446" width="1" height="45"/><rect x="141" y="446" width="1" height="45"/><rect x="143" y="446" width="1" height="45"/><rect x="144" y="445" width="2" height="46"/><rect x="146" y="444" width="1" height="47"/><rect x="148" y="437" width="1" height="54"/><rect x="149" y="434" width="2" height="57"/><rect x="151" y="434" width="1" height="57"/><rect x="153" y="432" width="1" height="59"/><rect x="154" y="431" width="2" height="60"/><rect x="156" y="433" width="1" height="58"/><rect x="158" y="434" width="1" height="57"/><rect x="159" y="436" width="2" height="55"/><rect x="161" y="439" width="1" height="52"/><rect x="163" y="436" width="1" height="55"/><rect x="164" y="433" width="2" height="58"/><rect x="166" y="433" width="1" height="58"/><rect x="168" y="436" width="1" height="55"/><rect x="169" y="436" width="2" height="55"/><rect x="171" y="436" width="1" height="55"/><rect x="173" y="437" width="1" height="54"/><rect x="175" y="436" width="1" height="55"/><rect x="176" y="431" width="2" height="60"/><rect x="178" y="428" width="1" height="63"/><rect x="180" y="424" width="1" height="67"/><rect x="181" y="422" width="2" height="69"/><rect x="183" y="418" width="1" height="73"/><rect x="185" y="417" width="1" height="74"/><rect x="186" y="421" width="2" height="70"/><rect x="188" y="422" width="1" height="69"/><rect x="190" y="424" width="1" height="67"/><rect x="191" y="426" width="2" height="65"/><rect x="193" y="427" width="1" height="64"/><rect x="195" y="427" width="1" height="64"/><rect x="196" y="425" width="2" height="66"/><rect x="198" y="423" width="1" height="68"/><rect x="200" y="425" width="1" height="66"/><rect x="201" y="428" width="2" height="63"/><rect x="203" y="428" width="1" height="63"/><rect x="205" y="429" width="1" height="62"/><rect x="207" y="429" width="1" height="62"/><rect x="208" y="429" width="2" height="62"/><rect x="210" y="432" width="1" height="59"/><rect x="212" y="436" width="1" height="55"/><rect x="213" y="441" width="2" height="50"/><rect x="215" y="440" width="1" height="51"/><rect x="217" y="438" width="1" height="53"/><rect x="218" y="439" width="2" height="52"/><rect x="220" y="440" width="1" height="51"/><rect x="222" y="442" width="1" height="49"/><rect x="223" y="442" width="2" height="49"/><rect x="225" y="440" width="1" height="51"/><rect x="227" y="439" width="1" height="52"/><rect x="228" y="439" width="2" height="52"/><rect x="230" y="438" width="1" height="53"/><rect x="232" y="438" width="1" height="53"/><rect x="233" y="440" width="2" height="51"/><rect x="235" y="442" width="1" height="49"/><rect x="237" y="446" width="1" height="45"/><rect x="239" y="448" width="1" height="43"/><rect x="240" y="447" width="2" height="44"/><rect x="242" y="447" width="1" height="44"/><rect x="244" y="449" width="1" height="42"/><rect x="245" y="449" width="2" height="42"/><rect x="247" y="450" width="1" height="41"/><rect x="249" y="451" width="1" height="40"/><rect x="250" y="453" width="2" height="38"/><rect x="252" y="451" width="1" height="40"/><rect x="254" y="447" width="1" height="44"/><rect x="255" y="447" width="2" height="44"/><rect x="257" y="446" width="1" height="45"/><rect x="259" y="448" width="1" height="43"/><rect x="260" y="446" width="2" height="45"/><rect x="262" y="445" width="1" height="46"/><rect x="264" y="445" width="1" height="46"/><rect x="265" y="447" width="2" height="44"/><rect x="267" y="447" width="1" height="44"/><rect x="269" y="445" width="1" height="46"/><rect x="270" y="446" width="2" height="45"/><rect x="272" y="447" width="2" height="44"/><rect x="274" y="446" width="1" height="45"/><rect x="276" y="446" width="1" height="45"/><rect x="277" y="446" width="2" height="45"/><rect x="279" y="444" width="1" height="47"/><rect x="281" y="441" width="1" height="50"/><rect x="282" y="440" width="2" height="51"/><rect x="284" y="441" width="1" height="50"/><rect x="286" y="441" width="1" height="50"/><rect x="287" y="441" width="2" height="50"/><rect x="289" y="440" width="1" height="51"/><rect x="291" y="438" width="1" height="53"/><rect x="292" y="436" width="2" height="55"/><rect x="294" y="436" width="1" height="55"/><rect x="296" y="436" width="1" height="55"/><rect x="297" y="435" width="2" height="56"/><rect x="299" y="432" width="1" height="59"/><rect x="301" y="423" width="1" height="68"/><rect x="302" y="426" width="2" height="65"/><rect x="304" y="431" width="2" height="60"/><rect x="306" y="432" width="1" height="59"/><rect x="308" y="433" width="1" height="58"/><rect x="309" y="430" width="2" height="61"/><rect x="311" y="429" width="1" height="62"/><rect x="313" y="434" width="1" height="57"/><rect x="314" y="435" width="2" height="56"/><rect x="316" y="437" width="1" height="54"/><rect x="318" y="440" width="1" height="51"/><rect x="319" y="442" width="2" height="49"/><rect x="321" y="442" width="1" height="49"/><rect x="323" y="439" width="1" height="52"/><rect x="324" y="439" width="2" height="52"/><rect x="326" y="440" width="1" height="51"/><rect x="328" y="438" width="1" height="53"/><rect x="329" y="437" width="2" height="54"/><rect x="331" y="435" width="1" height="56"/><rect x="333" y="435" width="1" height="56"/><rect x="334" y="437" width="2" height="54"/><rect x="336" y="435" width="2" height="56"/><rect x="338" y="433" width="1" height="58"/><rect x="340" y="433" width="1" height="58"/><rect x="341" y="438" width="2" height="53"/><rect x="343" y="438" width="1" height="53"/><rect x="345" y="437" width="1" height="54"/><rect x="346" y="438" width="2" height="53"/><rect x="348" y="441" width="1" height="50"/><rect x="350" y="441" width="1" height="50"/><rect x="351" y="440" width="2" height="51"/><rect x="353" y="438" width="1" height="53"/><rect x="355" y="437" width="1" height="54"/><rect x="356" y="438" width="2" height="53"/><rect x="358" y="439" width="1" height="52"/><rect x="360" y="441" width="1" height="50"/><rect x="361" y="440" width="2" height="51"/><rect x="363" y="439" width="1" height="52"/><rect x="365" y="439" width="1" height="52"/><rect x="366" y="441" width="2" height="50"/><rect x="368" y="441" width="2" height="50"/><rect x="370" y="442" width="1" height="49"/><rect x="372" y="442" width="1" height="49"/><rect x="373" y="441" width="2" height="50"/><rect x="375" y="441" width="1" height="50"/><rect x="377" y="443" width="1" height="48"/><rect x="378" y="444" width="2" height="47"/><rect x="380" y="445" width="1" height="46"/><rect x="382" y="443" width="1" height="48"/><rect x="383" y="443" width="2" height="48"/><rect x="385" y="443" width="1" height="48"/><rect x="387" y="442" width="1" height="49"/><rect x="388" y="440" width="2" height="51"/><rect x="390" y="438" width="1" height="53"/><rect x="392" y="438" width="1" height="53"/><rect x="393" y="441" width="2" height="50"/><rect x="395" y="441" width="1" height="50"/><rect x="397" y="439" width="1" height="52"/><rect x="398" y="439" width="2" height="52"/><rect x="400" y="440" width="2" height="51"/><rect x="402" y="441" width="1" height="50"/><rect x="404" y="442" width="1" height="49"/><rect x="405" y="444" width="2" height="47"/><rect x="407" y="445" width="1" height="46"/><rect x="409" y="445" width="1" height="46"/><rect x="410" y="446" width="2" height="45"/><rect x="412" y="446" width="1" height="45"/><rect x="414" y="446" width="1" height="45"/><rect x="415" y="446" width="2" height="45"/><rect x="417" y="445" width="1" height="46"/><rect x="419" y="446" width="1" height="45"/><rect x="420" y="446" width="2" height="45"/><rect x="422" y="444" width="1" height="47"/><rect x="424" y="443" width="1" height="48"/><rect x="425" y="444" width="2" height="47"/><rect x="427" y="446" width="1" height="45"/><rect x="429" y="446" width="1" height="45"/><rect x="430" y="446" width="2" height="45"/><rect x="432" y="447" width="2" height="44"/><rect x="434" y="447" width="1" height="44"/><rect x="436" y="452" width="1" height="39"/><rect x="437" y="458" width="2" height="33"/><rect x="439" y="456" width="1" height="35"/><rect x="441" y="454" width="1" height="37"/><rect x="442" y="453" width="2" height="38"/><rect x="444" y="456" width="1" height="35"/><rect x="446" y="458" width="1" height="33"/><rect x="447" y="460" width="2" height="31"/><rect x="449" y="461" width="1" height="30"/><rect x="451" y="461" width="1" height="30"/><rect x="452" y="459" width="2" height="32"/><rect x="454" y="459" width="1" height="32"/><rect x="456" y="461" width="1" height="30"/><rect x="457" y="462" width="2" height="29"/><rect x="459" y="460" width="1" height="31"/><rect x="461" y="459" width="1" height="32"/><rect x="462" y="456" width="2" height="35"/><rect x="464" y="457" width="2" height="34"/><rect x="466" y="457" width="1" height="34"/><rect x="468" y="457" width="1" height="34"/><rect x="469" y="458" width="2" height="33"/><rect x="471" y="460" width="1" height="31"/><rect x="473" y="460" width="1" height="31"/><rect x="474" y="460" width="2" height="31"/><rect x="476" y="462" width="1" height="29"/><rect x="478" y="464" width="1" height="27"/><rect x="479" y="464" width="2" height="27"/><rect x="481" y="463" width="1" height="28"/><rect x="483" y="461" width="1" height="30"/><rect x="484" y="460" width="2" height="31"/><rect x="486" y="460" width="1" height="31"/><rect x="488" y="461" width="1" height="30"/><rect x="489" y="461" width="2" height="30"/><rect x="491" y="462" width="1" height="29"/><rect x="493" y="462" width="1" height="29"/><rect x="494" y="463" width="2" height="28"/><rect x="496" y="465" width="2" height="26"/><rect x="498" y="465" width="1" height="26"/><rect x="500" y="466" width="1" height="25"/><rect x="501" y="466" width="2" height="25"/><rect x="503" y="466" width="1" height="25"/><rect x="505" y="466" width="1" height="25"/><rect x="506" y="468" width="2" height="23"/><rect x="508" y="468" width="1" height="23"/><rect x="510" y="468" width="1" height="23"/><rect x="511" y="467" width="2" height="24"/><rect x="513" y="463" width="1" height="28"/><rect x="515" y="459" width="1" height="32"/><rect x="516" y="456" width="2" height="35"/><rect x="518" y="456" width="1" height="35"/><rect x="520" y="457" width="1" height="34"/><rect x="521" y="457" width="2" height="34"/><rect x="523" y="459" width="1" height="32"/><rect x="525" y="460" width="1" height="31"/><rect x="526" y="458" width="2" height="33"/><rect x="528" y="458" width="1" height="33"/><rect x="530" y="459" width="1" height="32"/><rect x="532" y="460" width="1" height="31"/><rect x="533" y="461" width="2" height="30"/><rect x="535" y="461" width="1" height="30"/><rect x="537" y="461" width="1" height="30"/><rect x="538" y="462" width="2" height="29"/><rect x="540" y="462" width="1" height="29"/><rect x="542" y="463" width="1" height="28"/><rect x="543" y="463" width="2" height="28"/><rect x="545" y="464" width="1" height="27"/><rect x="547" y="465" width="1" height="26"/><rect x="548" y="465" width="2" height="26"/><rect x="550" y="465" width="1" height="26"/><rect x="552" y="466" width="1" height="25"/><rect x="553" y="467" width="2" height="24"/><rect x="555" y="465" width="1" height="26"/><rect x="557" y="464" width="1" height="27"/><rect x="558" y="463" width="2" height="28"/><rect x="560" y="464" width="1" height="27"/><rect x="562" y="464" width="1" height="27"/><rect x="564" y="465" width="1" height="26"/><rect x="565" y="465" width="2" height="26"/><rect x="567" y="464" width="1" height="27"/><rect x="569" y="464" width="1" height="27"/><rect x="570" y="465" width="2" height="26"/><rect x="572" y="465" width="1" height="26"/><rect x="574" y="465" width="1" height="26"/><rect x="575" y="465" width="2" height="26"/><rect x="577" y="464" width="1" height="27"/><rect x="579" y="464" width="1" height="27"/><rect x="580" y="463" width="2" height="28"/><rect x="582" y="461" width="1" height="30"/><rect x="584" y="461" width="1" height="30"/><rect x="585" y="461" width="2" height="30"/><rect x="587" y="462" width="1" height="29"/><rect x="589" y="463" width="1" height="28"/><rect x="590" y="463" width="2" height="28"/><rect x="592" y="464" width="1" height="27"/><rect x="594" y="463" width="1" height="28"/><rect x="596" y="463" width="1" height="28"/><rect x="597" y="462" width="2" height="29"/><rect x="599" y="463" width="1" height="28"/><rect x="601" y="464" width="1" height="27"/><rect x="602" y="465" width="2" height="26"/><rect x="604" y="465" width="1" height="26"/><rect x="606" y="466" width="1" height="25"/><rect x="607" y="466" width="2" height="25"/><rect x="609" y="467" width="1" height="24"/><rect x="611" y="467" width="1" height="24"/><rect x="612" y="467" width="2" height="24"/><rect x="614" y="467" width="1" height="24"/><rect x="616" y="467" width="1" height="24"/><rect x="617" y="468" width="2" height="23"/><rect x="619" y="467" width="1" height="24"/><rect x="621" y="467" width="1" height="24"/><rect x="622" y="468" width="2" height="23"/><rect x="624" y="468" width="1" height="23"/><rect x="626" y="470" width="1" height="21"/><rect x="628" y="471" width="1" height="20"/><rect x="629" y="473" width="2" height="18"/><rect x="631" y="472" width="1" height="19"/><rect x="633" y="472" width="1" height="19"/><rect x="634" y="473" width="2" height="18"/><rect x="636" y="474" width="1" height="17"/><rect x="638" y="472" width="1" height="19"/><rect x="639" y="472" width="2" height="19"/><rect x="641" y="471" width="1" height="20"/><rect x="643" y="472" width="1" height="19"/><rect x="644" y="473" width="2" height="18"/><rect x="646" y="472" width="1" height="19"/><rect x="648" y="472" width="1" height="19"/><rect x="649" y="472" width="2" height="19"/><rect x="651" y="471" width="1" height="20"/><rect x="653" y="472" width="1" height="19"/><rect x="654" y="472" width="2" height="19"/><rect x="656" y="472" width="1" height="19"/><rect x="658" y="473" width="1" height="18"/><rect x="660" y="473" width="1" height="18"/><rect x="661" y="472" width="2" height="19"/><rect x="663" y="473" width="1" height="18"/><rect x="665" y="473" width="1" height="18"/><rect x="666" y="473" width="2" height="18"/><rect x="668" y="474" width="1" height="17"/><rect x="670" y="473" width="1" height="18"/><rect x="671" y="473" width="2" height="18"/><rect x="673" y="473" width="1" height="18"/><rect x="675" y="473" width="1" height="18"/><rect x="676" y="473" width="2" height="18"/><rect x="678" y="473" width="1" height="18"/><rect x="680" y="473" width="1" height="18"/><rect x="681" y="473" width="2" height="18"/><rect x="683" y="473" width="1" height="18"/><rect x="685" y="473" width="1" height="18"/><rect x="686" y="474" width="2" height="17"/><rect x="688" y="473" width="1" height="18"/><rect x="690" y="473" width="1" height="18"/><rect x="691" y="473" width="2" height="18"/><rect x="693" y="473" width="2" height="18"/><rect x="695" y="473" width="1" height="18"/><rect x="697" y="473" width="1" height="18"/><rect x="698" y="473" width="2" height="18"/><rect x="700" y="472" width="1" height="19"/><rect x="702" y="470" width="1" height="21"/><rect x="703" y="468" width="2" height="23"/><rect x="705" y="468" width="1" height="23"/><rect x="707" y="469" width="1" height="22"/><rect x="708" y="469" width="2" height="22"/><rect x="710" y="470" width="1" height="21"/><rect x="712" y="470" width="1" height="21"/><rect x="713" y="470" width="2" height="21"/><rect x="715" y="469" width="1" height="22"/><rect x="717" y="468" width="1" height="23"/><rect x="718" y="470" width="2" height="21"/><rect x="720" y="471" width="1" height="20"/><rect x="722" y="471" width="1" height="20"/><rect x="723" y="472" width="2" height="19"/><rect x="725" y="472" width="2" height="19"/><rect x="727" y="472" width="1" height="19"/><rect x="729" y="472" width="1" height="19"/><rect x="730" y="473" width="2" height="18"/><rect x="732" y="473" width="1" height="18"/><rect x="734" y="472" width="1" height="19"/><rect x="735" y="472" width="2" height="19"/><rect x="737" y="472" width="1" height="19"/><rect x="739" y="471" width="1" height="20"/><rect x="740" y="472" width="2" height="19"/><rect x="742" y="472" width="1" height="19"/><rect x="744" y="472" width="1" height="19"/></g>
<rect x="100.5" y="411.5" width="676.0" height="80.0" fill="none" stroke="#4a73a5" stroke-width="1" shape-rendering="crispEdges"/>
<g stroke="#4a73a5" stroke-opacity="0.45" stroke-width="1" shape-rendering="crispEdges"><line x1="131.5" x2="131.5" y1="509.5" y2="589.5"/><line x1="284.5" x2="284.5" y1="509.5" y2="589.5"/><line x1="438.5" x2="438.5" y1="509.5" y2="589.5"/><line x1="592.5" x2="592.5" y1="509.5" y2="589.5"/><line x1="745.5" x2="745.5" y1="509.5" y2="589.5"/><line x1="100.5" x2="776.5" y1="529.5" y2="529.5"/></g>
<g fill="none" stroke-width="2.1" stroke-linejoin="round" stroke-linecap="round">
<path d="M130 529.38 L132.5 531 L135 532.88 L137.5 532.88 L140.62 532.5 L143.75 532 L146.25 530.38 L148.12 527.25 L150 524.75 L151.88 524.12 L154.38 522.88 L157.5 526 L161.25 529.12 L165 526 L168.75 527.88 L172.5 527.25 L176.25 524.75 L178.12 526 L180 521 L182.5 517.88 L184.75 512.25 L186.88 517.25 L189.38 517.25 L191.25 522.25 L193.12 521 L195 525.38 L197.5 522.25 L200 521.62 L201.88 527.25 L203.75 526 L206.25 527.88 L208.75 528.5 L211.25 532.25 L213.75 537.88 L216.25 536 L218.75 536 L221.25 539.12 L222 539.12 L223.88 538.5 L225.75 535.75 L227.62 536.62 L230.12 535 L232 536.62 L234.5 539.75 L237 542.25 L239.5 544.12 L242 543.5 L244.5 545.75 L247 546.62 L249.5 548.5 L252 549.12 L253.88 543.5 L255.75 544.75 L258.25 545.38 L260.12 544.75 L262 542.88 L264.5 542.25 L266.38 544.75 L268.25 543.5 L270.12 541.62 L272 544.75 L273.88 545.38 L275.75 544.12 L277.62 545.38 L280.12 542.88 L282.62 540.38 L284.5 542.25 L286.38 543.5 L288.88 543.25 L291.38 542.25 L293.25 538.5 L295.12 539.75 L297 539.12 L298.88 537.25 L300.75 527.25 L302.62 527.88 L304.5 532.88 L306.38 536 L308.88 535.38 L311 532.88 L312.62 537.25 L315.12 537.88 L317.62 541 L318 541.62 L319.88 542.25 L322.38 539.75 L324.25 538.75 L326.75 540.38 L329.25 539.12 L331.75 537.88 L333.62 537.25 L335.5 539.12 L337.38 541 L338.62 536.62 L340.5 536.38 L342.38 542.25 L344.88 540.38 L347.38 539.75 L349.88 543.5 L351.75 541 L353.62 540.38 L355.25 536.62 L357.38 539.75 L360.5 541.62 L362.38 538.75 L364.25 539.75 L365.5 538.25 L367.38 541 L369.25 539.5 L371.75 540.75 L374.25 540 L377.38 542.25 L380.5 544.12 L383 542.88 L386.12 542.88 L388.62 541 L392.38 539.75 L395.5 542.88 L398 541.62 L400.5 541 L403 542.88 L405.5 543.5 L408 545.38 L411.12 544.75 L412.75 546.62 L414 544.75 L416.5 544.12 L419 545.38 L420.88 547.25 L422.75 544.75 L424.62 545.38 L426.5 547.25 L429 549.75 L431.5 549.12 L433.38 550.38 L435.88 550.38 L437.5 558.5 L438.38 559.75 L440.25 555.38 L442.75 553.5 L445.25 556.62 L447.75 558.5 L450.88 558.5 L454 556.62 L456.5 559.75 L458.38 560.38 L460.88 558.5 L463.38 555.38 L465.88 556.62 L468.38 557.25 L470.25 556 L472.75 557.88 L475.25 557.88 L477.12 559.75 L479 562.88 L481.5 559.12 L484.62 556.62 L487.75 557.25 L490.25 557 L492.75 559.12 L495.25 558.25 L497.75 559.12 L500.88 558.5 L503.38 559.12 L506.5 561 L509 560.5 L510 560.38 L512.5 557.88 L515 552.25 L517.25 546.62 L520 548.5 L522.5 549.75 L524.38 549.12 L526 551.62 L528.12 549.12 L530 550.38 L532.5 553.5 L535 552.88 L537.5 552.5 L540 554.75 L543.12 557.25 L545.62 556 L548.12 558.5 L550.62 556.62 L553.12 559.75 L555.62 556.62 L558.12 555.38 L560 554.75 L562.5 556 L565.62 557.25 L568.12 555.38 L570.62 556 L573.12 557.25 L576.25 557.88 L578.75 556 L581.25 556.62 L583.75 553.5 L586.25 554.12 L588.75 556.62 L591.25 556 L593.75 556.62 L596.25 556.62 L598.5 555.75 L600.62 558.5 L603.12 559.75 L605.62 559.12 L606 559.75 L608.5 560 L611.62 559.5 L614.75 560 L617.88 559.5 L620.38 559.12 L623.5 560.38 L626.62 561.62 L629.12 563.75 L631.62 562.25 L634.12 562.88 L637 565.75 L638.25 558.5 L639.75 560.38 L641.62 557.25 L643.5 561 L646 559.75 L649.12 557.88 L651.62 557.25 L654.75 559.75 L658.5 560 L662.25 559.5 L665.38 560.38 L667.88 561 L670.75 558.5 L673.5 560.38 L676 560 L678.5 561 L681 560.38 L684.12 562.25 L687.25 561.62 L689.75 560.75 L690 560.38 L693.75 561 L697.5 561.62 L701.25 561.62 L703.75 559.75 L706.25 556 L709.38 554.5 L711.88 556.62 L714.38 556 L716.88 557 L718.5 554.75 L720.62 557.25 L723.12 555.75 L725.62 557.88 L728.75 558.75 L731.88 560.38 L735 560 L738.12 560 L740 558.5 L741.88 561 L743.75 560.38 L745.88 560" stroke="#ffa03c"/>
<path d="M130 529.38 L131.25 530.38 L132.75 532.88 L134 536 L135.62 531 L137.25 533.5 L138.75 532.25 L140.62 531 L143.75 530.38 L146.25 529.12 L147.5 524.75 L148.75 514.12 L149.75 514.12 L151 523.5 L152.5 522.25 L154.38 518.5 L156.25 521.62 L157.75 525.38 L159.38 524.75 L161.25 529.75 L163.12 526.62 L164.75 523.5 L166.25 521.62 L168.12 526 L169.38 527.88 L171 524.75 L172.5 527.88 L174.38 526 L176 522.88 L177.5 531 L179.38 532.25 L181.25 534.12 L183.12 532.88 L185 530.38 L186.25 534.12 L188.12 534.75 L189.75 532.25 L191.88 537.25 L193.75 535.38 L195.62 536.62 L197.5 535.38 L199.75 533.5 L201.5 541 L203.12 537.88 L205 539.12 L206.88 538.5 L208.75 540.38 L211.25 546 L213.12 549.12 L215 549.12 L217.5 546 L220 547.88 L221.88 550.75 L222 551 L223.88 549.75 L225.75 546 L227.62 547.25 L230.12 546 L232 549.12 L233.88 552.25 L236.38 553.5 L238.88 554.75 L241.38 552.88 L243.25 554.75 L245.12 554.12 L247.62 556 L250.12 556.62 L252 556 L253.88 549.12 L255.5 551.62 L257.62 551 L259.5 551.62 L262 549.75 L263.88 549.12 L265.75 551 L267.62 552.25 L269.5 549.75 L271.38 550 L273.25 553.5 L275.12 552.25 L277 553.5 L279.5 551.62 L282 550.75 L283.88 552.88 L285.75 554.75 L288.25 554.12 L290.75 554.12 L293 552.88 L295.12 556 L297 557 L299.5 556 L301.38 551.62 L303.25 553.5 L305.12 556 L307.62 556.62 L309.5 556.62 L311 554.75 L312.62 557.88 L315.12 558.5 L317.62 560.38 L318 560.38 L319.88 560.75 L322.38 558.5 L324.5 557.25 L326.5 560.38 L329.25 559.12 L331.12 559.5 L333.62 560.38 L336.12 563.25 L338.25 561 L339.88 562.88 L342 565.75 L344.25 564.5 L346.75 563.75 L349.25 565.38 L351.5 563.25 L353.62 564.12 L355.25 562.5 L357 565.75 L359.88 567.25 L362 564.5 L364 565.75 L366.12 564.75 L368 565.75 L370.5 565 L373.62 564.75 L376.12 566 L378.62 566.62 L381.12 566.62 L383.62 565.75 L386.75 565.75 L389.88 564.75 L393 566.62 L395.5 567 L398.62 565 L401.12 566.62 L403.62 566 L406.75 567.25 L409.88 566 L412.38 566.62 L414 564.5 L416.5 565.75 L419 566.62 L420.88 567.25 L422.75 565.38 L425.25 566.62 L427.75 568.5 L430.25 567.88 L432.75 569.12 L435.88 568.5 L437.5 572.25 L438.38 574.12 L440.25 570.38 L442.12 569.12 L444 571 L446.5 572.25 L449.62 572.88 L452.75 572.25 L455.25 572 L457.75 573.5 L460.88 572.25 L463.38 570.38 L465.88 571 L468.38 571.62 L470.25 570.75 L472.75 571.62 L475.25 571.62 L477.12 572.88 L479 574.5 L481.5 571.62 L484.62 569.75 L487.75 570.38 L490.25 570.75 L492.75 572 L495.25 571 L498.38 571.62 L500.88 571.25 L503.38 571.62 L506.5 572.88 L509 572.38 L510 572.25 L512.5 570.38 L515 567.88 L517.25 564.75 L520 565.38 L522.5 566 L524.38 565.38 L526 567.88 L528.12 564.75 L530 566.62 L532.5 568.5 L535 568.25 L537.5 567.88 L540 569.75 L543.12 571.62 L545.62 570.38 L548.12 572 L550.62 570.38 L553.12 572 L555.62 570.38 L558.12 570 L560 569.5 L562.5 570.38 L565.62 571 L568.12 569.75 L570.62 570.38 L573.12 571 L576.25 571 L578.75 570 L581.25 571 L583.75 568.75 L586.25 569.12 L588.75 571 L591.25 570.75 L593.75 570.38 L596.25 570.75 L598.5 570 L600.62 571.62 L603.12 572.5 L605.62 572.88 L606 573.5 L608.5 573.5 L611.62 572 L614.75 572.5 L617.88 572 L620.38 571.62 L623.5 572.5 L626.62 572.88 L629.12 574.12 L631.62 571.25 L634.12 572.25 L637 573.5 L638.5 567.5 L640 570.38 L642 568.75 L643.5 570 L645.75 571 L648.5 569.12 L651 568.5 L654.12 570 L656 569.12 L659.75 570 L662.88 569.5 L665.38 570 L667.88 570.38 L670.75 568.5 L673.5 570.75 L676 570 L678.5 570.75 L681 570 L684.12 571.62 L687.25 571 L689.75 570.5 L690 570.38 L693.75 570.75 L697.5 571 L701.25 571 L703.75 570 L706.25 568.25 L709.38 567 L711.88 568.25 L714.38 567.88 L716.88 568.25 L718.5 567 L720.62 568.5 L723.12 567.5 L725.62 568.75 L728.75 569.75 L731.88 571.25 L735 570.75 L738.12 570.75 L740 569.75 L741.88 571.62 L743.75 571 L745.88 570.75" stroke="#29aaff"/>
<path d="M130 529.38 L131.88 531.62 L133.75 539.75 L135.62 535.38 L137.25 537.25 L138.75 535.38 L140.62 536.62 L142.5 537.88 L144 536.62 L145.62 539.12 L147.25 534.75 L148.75 526 L149.75 526 L151 531.62 L152.5 531 L154.38 528.25 L156.25 529.75 L158.12 530.38 L160 534.12 L161.25 536 L163.12 533.5 L165 529.75 L166.5 528.5 L168.12 531.62 L169.75 533.5 L171.25 530.38 L172.75 533.75 L174.38 532.25 L176.25 528.5 L178.12 530.38 L180.62 531 L183.12 527.88 L184.75 524.75 L186.5 529.75 L188.12 529.12 L189.75 526 L191.25 529.12 L193.12 529.75 L194.75 532.88 L196.88 529.12 L198.75 528.5 L200.25 529.12 L201.88 534.75 L203.75 534.12 L205.62 535.38 L207.5 534.75 L209.38 536.62 L211.25 539.12 L213.12 542.25 L215 541 L217.5 538.25 L220 539.12 L221.88 541.25 L222 541 L223.88 539.12 L225.75 535.75 L227.62 537 L230.12 535.75 L232 537.88 L233.88 541.62 L235.75 542.25 L238.25 544.12 L240.75 542.88 L243.25 546 L245.12 544.75 L247.62 546.62 L250.12 547.88 L252 547.25 L253.88 538.75 L255.5 542.88 L257.62 542.25 L259.5 542.88 L262 540.38 L263.88 539.5 L265.75 542.25 L267.62 541.62 L269.5 539.75 L271.38 540 L273 544.12 L275.12 542.25 L277 544.12 L279.5 541.62 L282 539.5 L283.88 541 L285.75 542.88 L287.62 541.62 L290.12 541.62 L292.62 537.88 L294.5 540.38 L296.38 541.62 L298.25 539.75 L300.12 537.25 L301.38 531 L302.62 534.75 L304.5 542.88 L306.38 542.25 L308.25 539.75 L310.12 541.62 L311.75 537.88 L313.25 542.25 L315.75 542.88 L317.62 543.75 L318 544.75 L319.88 544.5 L322.38 541.62 L324.88 538.75 L326.5 542.88 L328.62 541 L331.12 540.75 L333.62 541 L335.5 542.88 L337 544.75 L338.62 539.75 L340.5 543.5 L342 548.5 L344.25 546.62 L346.12 545.38 L348 546.62 L349.88 548.5 L351.75 544.75 L353.62 547.25 L355.25 543.5 L357 547.88 L358.62 549.75 L360.25 552.25 L362 547.25 L364 549.12 L365.5 550.38 L367.38 553.5 L369.25 552.25 L371.75 552.25 L373.62 551 L375.5 552.88 L377.38 554.12 L379.88 553.5 L382.38 552.88 L384.88 554.75 L387.38 554.12 L389.88 554.12 L392.38 556 L394.88 557.88 L397.38 556 L399.88 555.38 L402.38 557.88 L404.88 557.25 L407.38 559.12 L410.5 556 L412.75 556.62 L414 552.88 L416.5 555.38 L419 556 L420.88 557.25 L422.75 554.75 L425.25 556.62 L427.75 559.75 L430.25 558.5 L432.75 559.12 L435.25 558.5 L437.12 564.75 L438.38 566.62 L440.25 559.75 L442.12 558.5 L444 561.62 L446.5 564.12 L449.62 564.12 L452.75 563.5 L455.25 562.88 L457.75 564.75 L460.25 563.5 L462.75 561 L465.25 562.25 L467.75 563.5 L470.25 561.62 L472.75 563.5 L475.25 563.25 L477.12 564.75 L478.75 566.62 L480.88 563.5 L483.38 560.38 L485.88 559.12 L489 559.75 L492.12 561.62 L494.62 559.75 L497.12 561 L499.62 559.75 L501.5 561 L504 559.75 L506.5 562.25 L509 562.5 L510 562.88 L512.5 560.38 L515 556 L517.25 551.62 L520 552.25 L522.5 552.25 L524.38 551 L526 554.12 L528.12 550.38 L530 552.88 L532.5 554.75 L535 554.5 L537.5 553.75 L540 556 L543.12 557.88 L545.62 556.62 L548.12 559.12 L550.62 557.25 L553.12 560.38 L555.62 556.62 L558.12 556 L560 555 L562.5 556.62 L565.62 557 L568.12 555.38 L570.62 556 L573.12 557.25 L576.25 557.88 L578.75 556.25 L581.25 557 L583.75 554.75 L586.25 555.38 L588.75 557.88 L591.25 558.5 L593.75 557.88 L596.25 558.5 L598.5 557.25 L600.62 559.75 L603.12 561 L605.62 561 L606 562 L608.5 562.25 L611.62 560 L614.75 561 L617.88 559.75 L620.38 559.12 L623.5 560.38 L626.62 561 L629.12 564.12 L631.62 559.75 L634.12 561 L637 560.38 L638.25 552.25 L639.75 556.62 L641.62 554.12 L643.5 555.38 L645.38 557 L647.88 554.12 L650.75 552 L653.5 555.38 L656 556 L659.12 556 L662.25 555 L664.75 556 L667.25 557 L670.75 553.5 L673.5 557 L676 556 L678.5 557.25 L681 556.62 L684.12 558.25 L687.25 557.25 L689.75 556.38 L690 556.62 L693.75 557 L697.5 557.5 L701.25 557.25 L703.75 555.38 L706.25 551.62 L709.38 550.38 L711.88 552.88 L714.38 551.62 L716.88 553.25 L718.5 550.75 L720.62 553.5 L723.12 551.25 L725.62 553.5 L728.75 554.12 L731.88 554.5 L735 553.75 L738.12 554.12 L740 552 L741.88 555 L743.75 554.12 L745.88 553.75" stroke="#f582ec"/>
<path d="M130.3 529.4 L745.9 529.4" stroke="#ffffff" stroke-opacity="0.72" stroke-width="1.35" stroke-linecap="butt"/>
</g>
<rect x="100.5" y="509.5" width="676.0" height="80.0" fill="none" stroke="#4a73a5" stroke-width="1" shape-rendering="crispEdges"/>
<g stroke="#4a73a5" stroke-opacity="0.45" stroke-width="1" shape-rendering="crispEdges"><line x1="131.5" x2="131.5" y1="606.5" y2="686.5"/><line x1="284.5" x2="284.5" y1="606.5" y2="686.5"/><line x1="438.5" x2="438.5" y1="606.5" y2="686.5"/><line x1="592.5" x2="592.5" y1="606.5" y2="686.5"/><line x1="745.5" x2="745.5" y1="606.5" y2="686.5"/></g>
<path d="M130 646.12 L151 646.12 L152.25 626.12 L154 625.25 L155.62 628.62 L157.25 629.88 L159 629.88 L161 636.12 L163.12 634.88 L166 630.75 L168.12 637.38 L171 640.5 L173.12 651.12 L175 647.38 L178.12 644.88 L181.25 634.88 L183.12 633.62 L185.25 625.5 L186.88 629.88 L188.75 633.62 L191.25 637.38 L193.12 634.88 L194.75 638.62 L196.25 633.62 L198.75 633 L200 635.5 L201.88 645.5 L203.5 648.62 L205 653 L206.88 655.5 L208.5 660.5 L211 661.12 L213.12 666.75 L215 664.25 L218.5 658.62 L220 661.75 L221.88 668 L224 673.62 L225.62 666.12 L227.5 663.62 L230 658 L231.88 658.62 L235 657.38 L237.25 653.62 L238.75 656.12 L240.62 661.12 L242.5 659.25 L244 660.5 L245.62 656.75 L247.5 656.75 L249 661.75 L250.62 664.25 L251.88 669.25 L253.5 661.75 L255.62 659.88 L257.25 654.88 L259 653.62 L261 646.12 L262.75 640.5 L264.38 641.75 L266 647.38 L268.12 640.5 L270.25 636.75 L272.25 638.62 L274 634.88 L276 632.38 L277.75 644.25 L279.75 641.12 L281.5 634.25 L283.12 631.12 L284.75 634.88 L286.25 639.25 L288.12 638.62 L290.62 629.88 L292.5 629.25 L294.38 628.62 L296.88 625.5 L298.75 623 L300.25 624.88 L301.25 615.25 L302.75 616.75 L304 618.62 L305.25 629.88 L306.25 638 L308.12 636.12 L310 636.75 L311.5 633.62 L313.5 639.88 L315 641.75 L316.88 646.75 L318.75 649.88 L320.62 651.75 L322.5 653 L324 658 L325.62 663 L327.25 663.62 L328.75 656.75 L330.62 651.75 L332.5 649.25 L335 656.75 L337.5 646.75 L340 641.75 L341.88 644.25 L343.75 641.12 L345.62 639.5 L347.25 641.75 L348.75 649.25 L350.62 649.88 L351.88 646.75 L353.5 650.5 L355.25 646.75 L357.5 649.88 L359.38 649.25 L361.25 651.75 L363.5 656.75 L365.62 647.38 L367.5 651.12 L370 653 L371.88 650.5 L373.75 644.88 L375.62 649.25 L377.5 651.12 L379 661.75 L380.62 663 L382.25 655.5 L384 651.12 L385.62 658 L387.5 653 L389 651.12 L390.62 639.88 L392.25 639 L394 643.62 L395.62 645.5 L397.5 643 L399.38 639.25 L401 636.75 L402.5 641.75 L404 637.38 L405.62 641.12 L407.5 648.62 L409 649.88 L410.62 651.75 L412.5 661.12 L414.38 661.75 L416.25 664.25 L417.75 658 L419.38 656.12 L421.25 664.25 L422.75 659.25 L424.75 654.88 L426.5 651.75 L428.12 656.75 L429.75 652.38 L431.5 647.38 L433.12 651.12 L434.75 651.12 L436.25 648 L437.75 664.88 L438.5 667.38 L440 663 L441.88 658 L443.75 655.5 L445 658 L446.5 664.25 L448.12 667.38 L450 668 L451.88 667.38 L453.75 663 L455.62 664.25 L457.5 665.5 L459.38 664.88 L461 662.38 L461.88 651.12 L463.5 644.88 L465 649.25 L466.88 654.88 L469 648 L470.62 644.25 L472.25 645.5 L474 643 L475.62 643 L477.25 650.5 L479 656.75 L480.62 656.12 L482.5 648.62 L484.38 647.38 L485.62 647.75 L486.88 656.75 L488.75 655.5 L490.25 653 L491.88 655.5 L493.75 659.25 L495.25 655.5 L496.88 658.62 L498.75 658 L500.62 658.62 L502.25 651.75 L503.75 648 L505.25 655.5 L506.88 666.75 L508.12 670.5 L509.38 675.5 L511 676.12 L512.5 670.5 L514.38 653 L516 640.5 L517.25 635.5 L519 632.38 L520.62 629.25 L522.5 629 L524.38 628 L525.62 635.5 L527.5 633.62 L529.38 630.5 L531 629.88 L533.12 632.38 L535 633.62 L536.88 636.75 L538.75 644.25 L540 653 L541.5 661.75 L543.12 663.62 L544.75 664.25 L546.25 661.75 L548.12 668 L549.38 661.75 L551 664.25 L552.5 666.75 L553.75 674.88 L555 674.25 L556.25 664.25 L557.75 656.75 L559.38 653.62 L561.25 655.5 L563.12 654.25 L565.62 653 L567.5 649.88 L569.38 648.62 L571.5 645.5 L573.12 644.88 L574.75 647.38 L576.5 641.12 L578.12 636.12 L579.75 639.25 L581.5 643.62 L583.75 638 L585.62 633.62 L587.25 630.5 L588.75 636.75 L590.62 639.88 L593.12 643.62 L595.62 639.88 L598.12 636.12 L600 633.62 L601.5 640.5 L603.12 646.75 L605 649.25 L606.5 660.5 L607.75 664.88 L609 670.5 L610.62 675.5 L611.88 669.88 L613.75 667.38 L615.62 666.12 L616.88 659.25 L618.75 663 L620.25 663.62 L621.88 670.5 L623.75 669.25 L625.62 668.62 L627.5 669.88 L629 673 L630.62 674.25 L631.88 666.75 L633.5 663.62 L635 662.38 L636.5 668 L637.75 671.12 L639 658.62 L640.62 660.5 L642.25 654.25 L643.75 658 L645.62 658.62 L647.5 658 L649.75 656.12 L651.25 652.38 L653.12 644.88 L654.75 644.25 L656.25 647.38 L658.12 646.75 L659.38 646.12 L661 639.25 L662.5 646.75 L664 647.38 L666 659.88 L667.5 655.5 L669.38 653.62 L671 648.62 L672.5 646.12 L674.38 653 L676.5 659.88 L678.75 655.5 L681.25 649.88 L684 644.25 L686 649.88 L687.75 653.62 L690 648 L691.88 643 L693.12 640.5 L694.75 647.38 L696.5 651.12 L698.5 645.5 L700.25 641.12 L701.88 631.75 L703.12 625.5 L704.75 620.5 L706.25 617 L707.75 623.62 L708.75 627.38 L710.62 624 L712.25 629.25 L713.5 631.12 L715 634.25 L716.88 632.38 L718.5 630.5 L719.75 636.12 L721.5 639.25 L723.5 639.88 L725.25 644.25 L726.88 649.88 L728.5 653 L730 661.5 L731.88 660.5 L733.5 663 L735.62 658.62 L737.25 659.25 L739.75 656.12 L741.25 661.75 L742.5 667.38 L744 659.25 L745.62 653" fill="none" stroke="#a9a9a9" stroke-width="2.1" stroke-linejoin="round" stroke-linecap="round"/>
<g fill="#f9a6f3" fill-opacity="0.6" stroke="#f9a6f3" stroke-opacity="0.7" stroke-width="0.8">
<circle cx="154" cy="625.25" r="2.4"/>
<circle cx="155.62" cy="628.62" r="2.4"/>
<circle cx="157.25" cy="629.88" r="2.4"/>
<circle cx="159" cy="629.88" r="2.4"/>
<circle cx="185.25" cy="625.5" r="2.4"/>
<circle cx="186.25" cy="628" r="2.4"/>
<circle cx="187.25" cy="629.88" r="2.4"/>
<circle cx="291.25" cy="629.5" r="2.4"/>
<circle cx="293.12" cy="629" r="2.4"/>
<circle cx="295" cy="628" r="2.4"/>
<circle cx="296.88" cy="626.12" r="2.4"/>
<circle cx="298.5" cy="623" r="2.4"/>
<circle cx="300.62" cy="624.5" r="2.4"/>
<circle cx="301.5" cy="615.25" r="2.4"/>
<circle cx="303.12" cy="618" r="2.4"/>
<circle cx="305.62" cy="630.25" r="2.4"/>
<circle cx="521" cy="629.25" r="2.4"/>
<circle cx="522.5" cy="629" r="2.4"/>
<circle cx="524.75" cy="628" r="2.4"/>
<circle cx="587.25" cy="630.5" r="2.4"/>
<circle cx="703.5" cy="625.5" r="2.4"/>
<circle cx="705" cy="620.5" r="2.4"/>
<circle cx="706.5" cy="617" r="2.4"/>
<circle cx="708.12" cy="627.75" r="2.4"/>
<circle cx="710.25" cy="624.25" r="2.4"/>
<circle cx="712.5" cy="629.5" r="2.4"/>
<circle cx="713.75" cy="630.75" r="2.4"/>
<circle cx="718.5" cy="630.5" r="2.4"/>
</g>
<g fill="#1fc7bd" fill-opacity="0.5" stroke="#1fc7bd" stroke-opacity="0.65" stroke-width="0.8">
<circle cx="213.12" cy="667.38" r="2.4"/>
<circle cx="214.75" cy="664.88" r="2.4"/>
<circle cx="213.12" cy="667.38" r="2.4"/>
<circle cx="215" cy="664.5" r="2.4"/>
<circle cx="220.62" cy="662.75" r="2.4"/>
<circle cx="221.88" cy="668.25" r="2.4"/>
<circle cx="224" cy="673.62" r="2.4"/>
<circle cx="226" cy="665.5" r="2.4"/>
<circle cx="227.75" cy="664" r="2.4"/>
<circle cx="230" cy="662.75" r="2.4"/>
<circle cx="249" cy="663" r="2.4"/>
<circle cx="251" cy="668.62" r="2.4"/>
<circle cx="252.25" cy="669.5" r="2.4"/>
<circle cx="327.25" cy="663.62" r="2.4"/>
<circle cx="379.38" cy="663.25" r="2.4"/>
<circle cx="381.25" cy="663.62" r="2.4"/>
<circle cx="416.25" cy="664.25" r="2.4"/>
<circle cx="421.25" cy="664.25" r="2.4"/>
<circle cx="438.12" cy="667.38" r="2.4"/>
<circle cx="440" cy="663.25" r="2.4"/>
<circle cx="441" cy="662.75" r="2.4"/>
<circle cx="445.62" cy="664" r="2.4"/>
<circle cx="447.25" cy="666.75" r="2.4"/>
<circle cx="448.75" cy="667.75" r="2.4"/>
<circle cx="450.62" cy="668" r="2.4"/>
<circle cx="452.25" cy="667" r="2.4"/>
<circle cx="453.75" cy="663" r="2.4"/>
<circle cx="455.62" cy="664" r="2.4"/>
<circle cx="457.5" cy="665.25" r="2.4"/>
<circle cx="459.38" cy="664.88" r="2.4"/>
<circle cx="461.25" cy="663" r="2.4"/>
<circle cx="507.25" cy="668.62" r="2.4"/>
<circle cx="509.38" cy="675.5" r="2.4"/>
<circle cx="511.25" cy="676.12" r="2.4"/>
<circle cx="512.75" cy="670.5" r="2.4"/>
<circle cx="543.12" cy="664.25" r="2.4"/>
<circle cx="546.25" cy="662" r="2.4"/>
<circle cx="548.12" cy="668" r="2.4"/>
<circle cx="549.38" cy="661.75" r="2.4"/>
<circle cx="552.5" cy="665.5" r="2.4"/>
<circle cx="553.75" cy="674.5" r="2.4"/>
<circle cx="556.88" cy="664.25" r="2.4"/>
<circle cx="607.25" cy="664.25" r="2.4"/>
<circle cx="609" cy="670.5" r="2.4"/>
<circle cx="610.62" cy="675.5" r="2.4"/>
<circle cx="612.25" cy="669.25" r="2.4"/>
<circle cx="614" cy="667.38" r="2.4"/>
<circle cx="616" cy="666.12" r="2.4"/>
<circle cx="619.38" cy="663.25" r="2.4"/>
<circle cx="622.25" cy="670.5" r="2.4"/>
<circle cx="624" cy="669.25" r="2.4"/>
<circle cx="626" cy="668.62" r="2.4"/>
<circle cx="627.75" cy="670.5" r="2.4"/>
<circle cx="629.38" cy="673" r="2.4"/>
<circle cx="630.62" cy="674.25" r="2.4"/>
<circle cx="632.25" cy="666.12" r="2.4"/>
<circle cx="633.75" cy="663.62" r="2.4"/>
<circle cx="635.25" cy="662.75" r="2.4"/>
<circle cx="637.75" cy="670.75" r="2.4"/>
<circle cx="641.88" cy="662.38" r="2.4"/>
<circle cx="733.5" cy="663.62" r="2.4"/>
<circle cx="742.5" cy="667.38" r="2.4"/>
</g>
<rect x="100.5" y="606.5" width="676.0" height="80.0" fill="none" stroke="#4a73a5" stroke-width="1" shape-rendering="crispEdges"/>
<g fill="#fff" font-size="14.85">
<text x="94.4" y="99.5" text-anchor="end">$0.12</text>
<text x="94.4" y="142.4" text-anchor="end">$0.10</text>
<text x="94.4" y="185.2" text-anchor="end">$0.08</text>
<text x="94.4" y="227.8" text-anchor="end">$0.06</text>
<text x="94.4" y="271.5" text-anchor="end">$0.04</text>
<text x="94.4" y="348.4" text-anchor="end">$200M</text>
<text x="94.4" y="454.5" text-anchor="end">$2B</text>
<text x="94.4" y="534.5" text-anchor="end">1.00</text>
</g>
<g fill="#fff" font-size="15.28">
<text x="130.7" y="309.8" text-anchor="middle">Apr 12, 25</text>
<text x="284.6" y="309.8" text-anchor="middle">Jul 12, 25</text>
<text x="438.3" y="309.8" text-anchor="middle">Oct 11, 25</text>
<text x="591.2" y="309.8" text-anchor="middle">Jan 10, 26</text>
<text x="744.6" y="309.8" text-anchor="middle">Apr 10, 26</text>
</g>
<g font-size="15.28">
<text x="106.8" y="409.2" fill="#ffa03c">VOLUME</text>
<text x="106.8" y="507.2" fill="#12d3c9">MC / FDV</text>
<text x="106.8" y="604.6" fill="#ffa03c">vBTC</text>
<text x="154.8" y="604.6" fill="#29aaff">vETH</text>
<text x="208.8" y="604.6" fill="#f582ec">vSOL</text>
<text x="106.8" y="701.8" fill="#fff">RSI</text>
</g>
<text x="6.4" y="44.4" font-size="32.8" font-weight="bold" fill="#12d3c9">$0.0327</text>
<text x="164.6" y="44.4" font-size="32.8" font-weight="bold" fill="#fff">KAS</text>
<text x="775.5" y="44" font-size="25" text-anchor="end" fill="#fff">Layer 1 (L1)</text>
<g id="logo" fill="#fff" font-family="'DejaVu Sans Light','DejaVu Sans',sans-serif" font-weight="200">
<text transform="translate(625.2 732.6) scale(1.07 1)" font-size="57" stroke="#0e1621" stroke-width="0.8">A</text><text x="666.8" y="732.3" font-size="33" letter-spacing="0.5" stroke="#fff" stroke-width="0.8">ugura</text>
<polygon points="636.2,716.2 655.3,716.2 656.85,720.3 634.6,720.3" fill="#0e1621"/>
<circle cx="646" cy="717.4" r="2.4" fill="#f04423"/>
<path d="M633.9 737.5 H658 M766.8 737.5 H782.6" stroke="#b8392a" stroke-width="1.1"/>
</g>
</svg>
</body></html>
